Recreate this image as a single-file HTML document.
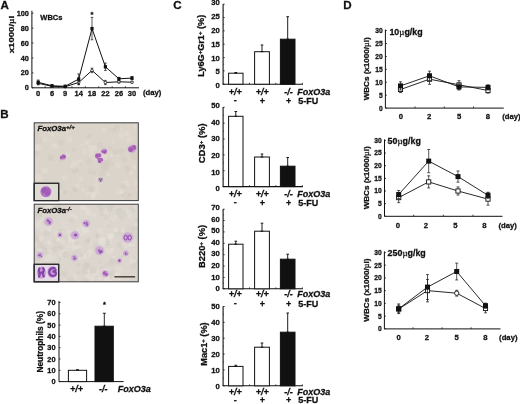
<!DOCTYPE html>
<html><head><meta charset="utf-8"><title>Figure</title>
<style>
html,body{margin:0;padding:0;background:#fff;}
svg{display:block;font-family:"Liberation Sans", Arial, Helvetica, sans-serif;fill:#111;filter:blur(0.35px);}
text{stroke:#111;stroke-width:0.28px;}
</style></head><body>
<svg width="520" height="404" viewBox="0 0 520 404">
<rect x="0" y="0" width="520" height="404" fill="#fff" stroke="none"/>
<text x="0.6" y="8.5" font-size="11.6" text-anchor="start" font-weight="bold" font-style="normal">A</text>
<text x="0.3" y="117.7" font-size="11.6" text-anchor="start" font-weight="bold" font-style="normal">B</text>
<text x="173.2" y="8.5" font-size="11.6" text-anchor="start" font-weight="bold" font-style="normal">C</text>
<text x="343.2" y="8.6" font-size="11.6" text-anchor="start" font-weight="bold" font-style="normal">D</text>
<line x1="31.9" y1="10.8" x2="31.9" y2="87.8" stroke="#111" stroke-width="1"/>
<line x1="31.9" y1="87.8" x2="139" y2="87.8" stroke="#111" stroke-width="1"/>
<line x1="31.9" y1="87.8" x2="33.4" y2="87.8" stroke="#111" stroke-width="0.8"/>
<text x="28.9" y="90.39999999999999" font-size="7.3" text-anchor="end" font-weight="bold" font-style="normal">0</text>
<line x1="31.9" y1="72.88" x2="33.4" y2="72.88" stroke="#111" stroke-width="0.8"/>
<text x="28.9" y="75.47999999999999" font-size="7.3" text-anchor="end" font-weight="bold" font-style="normal">20</text>
<line x1="31.9" y1="57.959999999999994" x2="33.4" y2="57.959999999999994" stroke="#111" stroke-width="0.8"/>
<text x="28.9" y="60.559999999999995" font-size="7.3" text-anchor="end" font-weight="bold" font-style="normal">40</text>
<line x1="31.9" y1="43.04" x2="33.4" y2="43.04" stroke="#111" stroke-width="0.8"/>
<text x="28.9" y="45.64" font-size="7.3" text-anchor="end" font-weight="bold" font-style="normal">60</text>
<line x1="31.9" y1="28.119999999999997" x2="33.4" y2="28.119999999999997" stroke="#111" stroke-width="0.8"/>
<text x="28.9" y="30.72" font-size="7.3" text-anchor="end" font-weight="bold" font-style="normal">80</text>
<line x1="31.9" y1="13.200000000000003" x2="33.4" y2="13.200000000000003" stroke="#111" stroke-width="0.8"/>
<text x="28.9" y="15.800000000000002" font-size="7.3" text-anchor="end" font-weight="bold" font-style="normal">100</text>
<text x="38.2" y="95.6" font-size="7.5" text-anchor="middle" font-weight="bold" font-style="normal">0</text>
<text x="52" y="95.6" font-size="7.5" text-anchor="middle" font-weight="bold" font-style="normal">6</text>
<text x="65.2" y="95.6" font-size="7.5" text-anchor="middle" font-weight="bold" font-style="normal">9</text>
<text x="78.7" y="95.6" font-size="7.5" text-anchor="middle" font-weight="bold" font-style="normal">14</text>
<text x="92" y="95.6" font-size="7.5" text-anchor="middle" font-weight="bold" font-style="normal">18</text>
<text x="105.4" y="95.6" font-size="7.5" text-anchor="middle" font-weight="bold" font-style="normal">22</text>
<text x="118.9" y="95.6" font-size="7.5" text-anchor="middle" font-weight="bold" font-style="normal">26</text>
<text x="132" y="95.6" font-size="7.5" text-anchor="middle" font-weight="bold" font-style="normal">30</text>
<line x1="45.1" y1="87.8" x2="45.1" y2="86.3" stroke="#111" stroke-width="0.8"/>
<line x1="58.6" y1="87.8" x2="58.6" y2="86.3" stroke="#111" stroke-width="0.8"/>
<line x1="71.95" y1="87.8" x2="71.95" y2="86.3" stroke="#111" stroke-width="0.8"/>
<line x1="85.35" y1="87.8" x2="85.35" y2="86.3" stroke="#111" stroke-width="0.8"/>
<line x1="98.7" y1="87.8" x2="98.7" y2="86.3" stroke="#111" stroke-width="0.8"/>
<line x1="112.15" y1="87.8" x2="112.15" y2="86.3" stroke="#111" stroke-width="0.8"/>
<line x1="125.45" y1="87.8" x2="125.45" y2="86.3" stroke="#111" stroke-width="0.8"/>
<text x="143" y="95.3" font-size="7.7" text-anchor="start" font-weight="bold" font-style="normal">(day)</text>
<text x="40.3" y="19.5" font-size="7.5" text-anchor="start" font-weight="bold" font-style="normal">WBCs</text>
<text x="13.8" y="34.5" font-size="7.7" text-anchor="middle" font-weight="bold" font-style="normal" transform="rotate(-90 13.8 34.5)" textLength="37.5" lengthAdjust="spacingAndGlyphs">x1000/<tspan font-family="Liberation Serif, serif" font-weight="normal">µ</tspan>l</text>
<polyline fill="none" stroke="#111" stroke-width="1.0" points="38.2,83.3 52.0,86.3 65.2,86.7 78.7,82.5 92.0,70.4 105.4,82.5 118.9,81.8 132.0,82.2"/>
<polyline fill="none" stroke="#111" stroke-width="1.0" points="38.2,82.3 52.0,85.8 65.2,86.3 78.7,79.1 92.0,28.6 105.4,66.8 118.9,78.8 132.0,78.1"/>
<line x1="38.2" y1="81.832" x2="38.2" y2="84.816" stroke="#111" stroke-width="0.7"/>
<line x1="36.900000000000006" y1="81.832" x2="39.5" y2="81.832" stroke="#111" stroke-width="0.7"/>
<line x1="36.900000000000006" y1="84.816" x2="39.5" y2="84.816" stroke="#111" stroke-width="0.7"/>
<circle cx="38.2" cy="83.3" r="1.3" fill="#fff" stroke="#111" stroke-width="0.8"/>
<line x1="52" y1="85.562" x2="52" y2="87.054" stroke="#111" stroke-width="0.7"/>
<line x1="50.7" y1="85.562" x2="53.3" y2="85.562" stroke="#111" stroke-width="0.7"/>
<line x1="50.7" y1="87.054" x2="53.3" y2="87.054" stroke="#111" stroke-width="0.7"/>
<circle cx="52" cy="86.3" r="1.3" fill="#fff" stroke="#111" stroke-width="0.8"/>
<line x1="65.2" y1="85.935" x2="65.2" y2="87.42699999999999" stroke="#111" stroke-width="0.7"/>
<line x1="63.900000000000006" y1="85.935" x2="66.5" y2="85.935" stroke="#111" stroke-width="0.7"/>
<line x1="63.900000000000006" y1="87.42699999999999" x2="66.5" y2="87.42699999999999" stroke="#111" stroke-width="0.7"/>
<circle cx="65.2" cy="86.7" r="1.3" fill="#fff" stroke="#111" stroke-width="0.8"/>
<line x1="78.7" y1="80.2654" x2="78.7" y2="84.7414" stroke="#111" stroke-width="0.7"/>
<line x1="77.4" y1="80.2654" x2="80.0" y2="80.2654" stroke="#111" stroke-width="0.7"/>
<line x1="77.4" y1="84.7414" x2="80.0" y2="84.7414" stroke="#111" stroke-width="0.7"/>
<circle cx="78.7" cy="82.5" r="1.3" fill="#fff" stroke="#111" stroke-width="0.8"/>
<line x1="92" y1="68.1802" x2="92" y2="72.6562" stroke="#111" stroke-width="0.7"/>
<line x1="90.7" y1="68.1802" x2="93.3" y2="68.1802" stroke="#111" stroke-width="0.7"/>
<line x1="90.7" y1="72.6562" x2="93.3" y2="72.6562" stroke="#111" stroke-width="0.7"/>
<circle cx="92" cy="70.4" r="1.3" fill="#fff" stroke="#111" stroke-width="0.8"/>
<line x1="105.4" y1="80.4146" x2="105.4" y2="84.59219999999999" stroke="#111" stroke-width="0.7"/>
<line x1="104.10000000000001" y1="80.4146" x2="106.7" y2="80.4146" stroke="#111" stroke-width="0.7"/>
<line x1="104.10000000000001" y1="84.59219999999999" x2="106.7" y2="84.59219999999999" stroke="#111" stroke-width="0.7"/>
<circle cx="105.4" cy="82.5" r="1.3" fill="#fff" stroke="#111" stroke-width="0.8"/>
<line x1="118.9" y1="80.713" x2="118.9" y2="82.951" stroke="#111" stroke-width="0.7"/>
<line x1="117.60000000000001" y1="80.713" x2="120.2" y2="80.713" stroke="#111" stroke-width="0.7"/>
<line x1="117.60000000000001" y1="82.951" x2="120.2" y2="82.951" stroke="#111" stroke-width="0.7"/>
<circle cx="118.9" cy="81.8" r="1.3" fill="#fff" stroke="#111" stroke-width="0.8"/>
<line x1="132" y1="81.459" x2="132" y2="82.951" stroke="#111" stroke-width="0.7"/>
<line x1="130.7" y1="81.459" x2="133.3" y2="81.459" stroke="#111" stroke-width="0.7"/>
<line x1="130.7" y1="82.951" x2="133.3" y2="82.951" stroke="#111" stroke-width="0.7"/>
<circle cx="132" cy="82.2" r="1.3" fill="#fff" stroke="#111" stroke-width="0.8"/>
<line x1="38.2" y1="80.0416" x2="38.2" y2="84.5176" stroke="#111" stroke-width="0.7"/>
<line x1="36.900000000000006" y1="80.0416" x2="39.5" y2="80.0416" stroke="#111" stroke-width="0.7"/>
<line x1="36.900000000000006" y1="84.5176" x2="39.5" y2="84.5176" stroke="#111" stroke-width="0.7"/>
<rect x="36.6" y="80.6" width="3.2" height="3.4" fill="#111"/>
<line x1="52" y1="85.0398" x2="52" y2="86.5318" stroke="#111" stroke-width="0.7"/>
<line x1="50.7" y1="85.0398" x2="53.3" y2="85.0398" stroke="#111" stroke-width="0.7"/>
<line x1="50.7" y1="86.5318" x2="53.3" y2="86.5318" stroke="#111" stroke-width="0.7"/>
<rect x="50.4" y="84.1" width="3.2" height="3.4" fill="#111"/>
<line x1="65.2" y1="85.562" x2="65.2" y2="87.054" stroke="#111" stroke-width="0.7"/>
<line x1="63.900000000000006" y1="85.562" x2="66.5" y2="85.562" stroke="#111" stroke-width="0.7"/>
<line x1="63.900000000000006" y1="87.054" x2="66.5" y2="87.054" stroke="#111" stroke-width="0.7"/>
<rect x="63.6" y="84.6" width="3.2" height="3.4" fill="#111"/>
<line x1="78.7" y1="73.92439999999999" x2="78.7" y2="84.3684" stroke="#111" stroke-width="0.7"/>
<line x1="77.4" y1="73.92439999999999" x2="80.0" y2="73.92439999999999" stroke="#111" stroke-width="0.7"/>
<line x1="77.4" y1="84.3684" x2="80.0" y2="84.3684" stroke="#111" stroke-width="0.7"/>
<rect x="77.10000000000001" y="77.4" width="3.2" height="3.4" fill="#111"/>
<line x1="92" y1="17.3776" x2="92" y2="39.7576" stroke="#111" stroke-width="0.7"/>
<line x1="90.7" y1="17.3776" x2="93.3" y2="17.3776" stroke="#111" stroke-width="0.7"/>
<line x1="90.7" y1="39.7576" x2="93.3" y2="39.7576" stroke="#111" stroke-width="0.7"/>
<rect x="90.4" y="26.9" width="3.2" height="3.4" fill="#111"/>
<line x1="105.4" y1="63.032799999999995" x2="105.4" y2="70.4928" stroke="#111" stroke-width="0.7"/>
<line x1="104.10000000000001" y1="63.032799999999995" x2="106.7" y2="63.032799999999995" stroke="#111" stroke-width="0.7"/>
<line x1="104.10000000000001" y1="70.4928" x2="106.7" y2="70.4928" stroke="#111" stroke-width="0.7"/>
<rect x="103.80000000000001" y="65.1" width="3.2" height="3.4" fill="#111"/>
<line x1="118.9" y1="77.356" x2="118.9" y2="80.34" stroke="#111" stroke-width="0.7"/>
<line x1="117.60000000000001" y1="77.356" x2="120.2" y2="77.356" stroke="#111" stroke-width="0.7"/>
<line x1="117.60000000000001" y1="80.34" x2="120.2" y2="80.34" stroke="#111" stroke-width="0.7"/>
<rect x="117.30000000000001" y="77.1" width="3.2" height="3.4" fill="#111"/>
<line x1="132" y1="76.61" x2="132" y2="79.594" stroke="#111" stroke-width="0.7"/>
<line x1="130.7" y1="76.61" x2="133.3" y2="76.61" stroke="#111" stroke-width="0.7"/>
<line x1="130.7" y1="79.594" x2="133.3" y2="79.594" stroke="#111" stroke-width="0.7"/>
<rect x="130.4" y="76.4" width="3.2" height="3.4" fill="#111"/>
<text x="92" y="17.3" font-size="7.5" text-anchor="middle" font-weight="bold" font-style="normal">*</text>
<defs>
<radialGradient id="gh"><stop offset="0" stop-color="#c79cd2" stop-opacity="0.95"/><stop offset="0.65" stop-color="#cba6d4" stop-opacity="0.85"/><stop offset="1" stop-color="#d6c3d6" stop-opacity="0"/></radialGradient>
<radialGradient id="gc"><stop offset="0" stop-color="#a050b0"/><stop offset="0.7" stop-color="#ad66ba" stop-opacity="0.95"/><stop offset="1" stop-color="#c08fc8" stop-opacity="0.3"/></radialGradient>
<filter id="bl" x="-5%" y="-5%" width="110%" height="110%"><feGaussianBlur stdDeviation="0.45"/></filter>
</defs>
<clipPath id="clip1"><rect x="34.2" y="122.8" width="104.1" height="77.8"/></clipPath>
<g clip-path="url(#clip1)">
<rect x="34.2" y="122.8" width="104.1" height="77.8" fill="#dbd4ca"/>
<g filter="url(#bl)">
<circle cx="48.2" cy="188.7" r="3.3" fill="#e6dfd5" opacity="0.55"/>
<circle cx="46.5" cy="182.0" r="2.7" fill="#d4cdc3" opacity="0.55"/>
<circle cx="116.3" cy="130.1" r="1.9" fill="#e3dcd2" opacity="0.55"/>
<circle cx="74.8" cy="170.1" r="3.3" fill="#cfc8be" opacity="0.55"/>
<circle cx="80.6" cy="178.9" r="2.3" fill="#e4ddd3" opacity="0.55"/>
<circle cx="128.0" cy="125.2" r="1.9" fill="#e1dad0" opacity="0.55"/>
<circle cx="35.2" cy="191.4" r="3.2" fill="#d4cdc3" opacity="0.55"/>
<circle cx="109.8" cy="163.8" r="3.3" fill="#d4cdc3" opacity="0.55"/>
<circle cx="91.8" cy="149.7" r="3.2" fill="#e3dcd2" opacity="0.55"/>
<circle cx="82.0" cy="145.3" r="1.8" fill="#e3dcd2" opacity="0.55"/>
<circle cx="129.6" cy="194.5" r="2.0" fill="#cfc8be" opacity="0.55"/>
<circle cx="137.5" cy="189.7" r="2.0" fill="#e6dfd5" opacity="0.55"/>
<circle cx="127.4" cy="198.5" r="2.8" fill="#d4cdc3" opacity="0.55"/>
<circle cx="87.1" cy="193.6" r="2.2" fill="#e6dfd5" opacity="0.55"/>
<circle cx="95.4" cy="191.5" r="3.5" fill="#e1dad0" opacity="0.55"/>
<circle cx="75.1" cy="189.2" r="2.8" fill="#cfc8be" opacity="0.55"/>
<circle cx="117.2" cy="155.0" r="2.1" fill="#e1dad0" opacity="0.55"/>
<circle cx="126.1" cy="183.2" r="3.3" fill="#e4ddd3" opacity="0.55"/>
<circle cx="79.9" cy="162.4" r="3.4" fill="#e1dad0" opacity="0.55"/>
<circle cx="121.6" cy="151.6" r="3.3" fill="#d4cdc3" opacity="0.55"/>
<circle cx="38.7" cy="177.5" r="3.8" fill="#e1dad0" opacity="0.55"/>
<circle cx="94.4" cy="173.1" r="2.1" fill="#d1cac0" opacity="0.55"/>
<circle cx="136.4" cy="182.7" r="2.9" fill="#e3dcd2" opacity="0.55"/>
<circle cx="91.3" cy="154.3" r="2.5" fill="#e3dcd2" opacity="0.55"/>
<circle cx="94.3" cy="158.5" r="2.3" fill="#e1dad0" opacity="0.55"/>
<circle cx="97.6" cy="179.5" r="2.6" fill="#e3dcd2" opacity="0.55"/>
<circle cx="119.6" cy="191.7" r="3.3" fill="#e3dcd2" opacity="0.55"/>
<circle cx="47.7" cy="183.3" r="2.2" fill="#e4ddd3" opacity="0.55"/>
<circle cx="84.3" cy="151.2" r="2.9" fill="#e1dad0" opacity="0.55"/>
<circle cx="77.2" cy="186.1" r="2.6" fill="#e4ddd3" opacity="0.55"/>
<circle cx="90.3" cy="171.3" r="3.0" fill="#d4cdc3" opacity="0.55"/>
<circle cx="96.6" cy="185.4" r="3.1" fill="#e1dad0" opacity="0.55"/>
<circle cx="95.0" cy="189.8" r="3.4" fill="#e3dcd2" opacity="0.55"/>
<circle cx="122.8" cy="195.2" r="1.9" fill="#cfc8be" opacity="0.55"/>
<circle cx="41.5" cy="190.3" r="2.7" fill="#e3dcd2" opacity="0.55"/>
<circle cx="112.9" cy="142.2" r="2.0" fill="#e1dad0" opacity="0.55"/>
<circle cx="53.4" cy="145.4" r="2.1" fill="#e6dfd5" opacity="0.55"/>
<circle cx="89.1" cy="135.9" r="2.3" fill="#cfc8be" opacity="0.55"/>
<circle cx="64.9" cy="177.5" r="2.8" fill="#e4ddd3" opacity="0.55"/>
<circle cx="36.7" cy="152.9" r="2.6" fill="#d1cac0" opacity="0.55"/>
<circle cx="61.1" cy="142.5" r="3.3" fill="#d1cac0" opacity="0.55"/>
<circle cx="134.7" cy="156.4" r="3.8" fill="#d1cac0" opacity="0.55"/>
<circle cx="36.1" cy="134.2" r="3.2" fill="#d1cac0" opacity="0.55"/>
<circle cx="80.6" cy="162.2" r="2.7" fill="#e3dcd2" opacity="0.55"/>
<circle cx="57.2" cy="198.7" r="3.4" fill="#e1dad0" opacity="0.55"/>
<circle cx="81.1" cy="163.6" r="1.9" fill="#cfc8be" opacity="0.55"/>
<circle cx="94.1" cy="147.8" r="3.1" fill="#e4ddd3" opacity="0.55"/>
<circle cx="111.0" cy="132.6" r="2.2" fill="#e4ddd3" opacity="0.55"/>
<circle cx="66.1" cy="189.6" r="2.4" fill="#e6dfd5" opacity="0.55"/>
<circle cx="111.6" cy="155.2" r="2.3" fill="#e4ddd3" opacity="0.55"/>
<circle cx="92.6" cy="189.0" r="3.0" fill="#d1cac0" opacity="0.55"/>
<circle cx="134.4" cy="167.2" r="2.1" fill="#e3dcd2" opacity="0.55"/>
<circle cx="124.8" cy="183.5" r="3.0" fill="#e4ddd3" opacity="0.55"/>
<circle cx="73.5" cy="149.8" r="2.2" fill="#cfc8be" opacity="0.55"/>
<circle cx="127.5" cy="168.8" r="2.8" fill="#cfc8be" opacity="0.55"/>
<circle cx="74.8" cy="162.0" r="1.8" fill="#e1dad0" opacity="0.55"/>
<circle cx="124.9" cy="192.8" r="1.8" fill="#d1cac0" opacity="0.55"/>
<circle cx="123.5" cy="185.9" r="2.9" fill="#d1cac0" opacity="0.55"/>
<circle cx="69.5" cy="139.4" r="3.1" fill="#e3dcd2" opacity="0.55"/>
<circle cx="73.7" cy="165.4" r="3.6" fill="#e3dcd2" opacity="0.55"/>
<circle cx="105.7" cy="160.5" r="3.8" fill="#d1cac0" opacity="0.55"/>
<circle cx="41.0" cy="125.9" r="2.1" fill="#d1cac0" opacity="0.55"/>
<circle cx="129.0" cy="139.4" r="3.3" fill="#e1dad0" opacity="0.55"/>
<circle cx="86.9" cy="142.7" r="2.5" fill="#e4ddd3" opacity="0.55"/>
<circle cx="64.5" cy="190.3" r="3.0" fill="#cfc8be" opacity="0.55"/>
<circle cx="126.6" cy="133.3" r="2.9" fill="#e4ddd3" opacity="0.55"/>
<circle cx="67.6" cy="154.4" r="2.6" fill="#e3dcd2" opacity="0.55"/>
<circle cx="49.5" cy="132.5" r="2.0" fill="#e1dad0" opacity="0.55"/>
<circle cx="115.6" cy="152.2" r="2.9" fill="#d1cac0" opacity="0.55"/>
<circle cx="93.1" cy="196.9" r="2.5" fill="#e6dfd5" opacity="0.55"/>
<circle cx="93.0" cy="194.8" r="2.7" fill="#e6dfd5" opacity="0.55"/>
<circle cx="45.4" cy="126.4" r="2.4" fill="#e1dad0" opacity="0.55"/>
<circle cx="104.0" cy="129.9" r="2.0" fill="#e3dcd2" opacity="0.55"/>
<circle cx="38.4" cy="141.4" r="3.8" fill="#d4cdc3" opacity="0.55"/>
<circle cx="51.1" cy="157.9" r="3.2" fill="#d1cac0" opacity="0.55"/>
<circle cx="111.7" cy="130.8" r="3.6" fill="#d4cdc3" opacity="0.55"/>
<circle cx="118.2" cy="165.0" r="3.4" fill="#e1dad0" opacity="0.55"/>
<circle cx="60.6" cy="159.9" r="2.0" fill="#cfc8be" opacity="0.55"/>
<circle cx="67.2" cy="124.9" r="3.4" fill="#e6dfd5" opacity="0.55"/>
<circle cx="109.8" cy="147.7" r="2.6" fill="#d4cdc3" opacity="0.55"/>
<circle cx="40.8" cy="193.9" r="3.7" fill="#d4cdc3" opacity="0.55"/>
<circle cx="45.8" cy="139.5" r="3.0" fill="#e1dad0" opacity="0.55"/>
<circle cx="124.5" cy="159.3" r="2.5" fill="#d1cac0" opacity="0.55"/>
<circle cx="90.6" cy="146.7" r="2.3" fill="#e4ddd3" opacity="0.55"/>
<circle cx="119.6" cy="129.8" r="3.3" fill="#e4ddd3" opacity="0.55"/>
<circle cx="102.1" cy="172.9" r="3.7" fill="#d4cdc3" opacity="0.55"/>
<circle cx="134.8" cy="126.0" r="2.2" fill="#e3dcd2" opacity="0.55"/>
<circle cx="122.4" cy="192.3" r="2.4" fill="#e6dfd5" opacity="0.55"/>
<circle cx="44.7" cy="170.4" r="3.4" fill="#e4ddd3" opacity="0.55"/>
<circle cx="59.7" cy="124.4" r="2.3" fill="#e4ddd3" opacity="0.55"/>
<circle cx="62.1" cy="190.3" r="3.3" fill="#e4ddd3" opacity="0.55"/>
<circle cx="100.3" cy="145.4" r="3.4" fill="#d4cdc3" opacity="0.55"/>
<circle cx="83.0" cy="189.6" r="2.0" fill="#e3dcd2" opacity="0.55"/>
<circle cx="117.0" cy="128.8" r="3.7" fill="#d1cac0" opacity="0.55"/>
<circle cx="52.9" cy="134.4" r="2.1" fill="#e3dcd2" opacity="0.55"/>
<circle cx="67.5" cy="131.1" r="2.8" fill="#e1dad0" opacity="0.55"/>
<circle cx="64.8" cy="192.3" r="2.1" fill="#cfc8be" opacity="0.55"/>
<circle cx="37.5" cy="147.4" r="3.6" fill="#e3dcd2" opacity="0.55"/>
<circle cx="104.2" cy="165.8" r="3.7" fill="#cfc8be" opacity="0.55"/>
<circle cx="55.6" cy="146.1" r="2.9" fill="#e4ddd3" opacity="0.55"/>
<circle cx="108.6" cy="174.8" r="2.3" fill="#e4ddd3" opacity="0.55"/>
<circle cx="105.2" cy="157.6" r="2.7" fill="#e6dfd5" opacity="0.55"/>
<circle cx="90.6" cy="189.0" r="2.7" fill="#d4cdc3" opacity="0.55"/>
<circle cx="121.3" cy="136.1" r="2.8" fill="#e3dcd2" opacity="0.55"/>
<circle cx="101.5" cy="155.2" r="2.9" fill="#e4ddd3" opacity="0.55"/>
<circle cx="106.2" cy="167.9" r="3.0" fill="#d1cac0" opacity="0.55"/>
<circle cx="61.2" cy="187.3" r="2.6" fill="#d4cdc3" opacity="0.55"/>
<circle cx="52.1" cy="129.7" r="2.8" fill="#d1cac0" opacity="0.55"/>
<circle cx="89.2" cy="161.8" r="3.1" fill="#d4cdc3" opacity="0.55"/>
<circle cx="131.0" cy="172.5" r="2.3" fill="#e6dfd5" opacity="0.55"/>
<circle cx="63.0" cy="157.5" r="3.6" fill="url(#gh)"/>
<circle cx="61.7" cy="157.5" r="2.3" fill="url(#gc)"/>
<circle cx="63.5" cy="156.3" r="2.3" fill="url(#gc)"/>
<circle cx="64.0" cy="156.7" r="2.3" fill="url(#gc)"/>
<circle cx="98.3" cy="156.0" r="3.8" fill="url(#gh)"/>
<circle cx="97.2" cy="156.7" r="2.3" fill="url(#gc)"/>
<circle cx="99.4" cy="155.2" r="2.3" fill="url(#gc)"/>
<circle cx="97.1" cy="155.4" r="2.3" fill="url(#gc)"/>
<circle cx="100.2" cy="160.3" r="3.4" fill="url(#gh)"/>
<circle cx="101.3" cy="159.7" r="2.1" fill="url(#gc)"/>
<circle cx="99.3" cy="159.5" r="2.1" fill="url(#gc)"/>
<circle cx="99.7" cy="161.4" r="2.1" fill="url(#gc)"/>
<circle cx="104.1" cy="150.9" r="3.5" fill="url(#gh)"/>
<circle cx="105.3" cy="151.3" r="2.2" fill="url(#gc)"/>
<circle cx="103.1" cy="151.6" r="2.2" fill="url(#gc)"/>
<circle cx="104.6" cy="152.0" r="2.2" fill="url(#gc)"/>
<circle cx="132.4" cy="148.9" r="5.0" fill="url(#gh)"/>
<circle cx="133.7" cy="147.6" r="3.1" fill="url(#gc)"/>
<circle cx="130.6" cy="149.0" r="3.1" fill="url(#gc)"/>
<circle cx="130.8" cy="149.6" r="3.1" fill="url(#gc)"/>
<circle cx="100.6" cy="179.8" r="3.2" fill="url(#gh)"/>
<circle cx="100.6" cy="179.8" r="2.3" fill="#b9a3c0" opacity="0.8"/>
<path d="M99.0 178.4 L100.6 180.4 L102.2 178.4 M100.6 180.4 V181.6" stroke="#5a4a70" stroke-width="0.8" fill="none"/>
</g>
</g>
<rect x="34.2" y="183.3" width="24.5" height="17.3" fill="#dedbd3" stroke="#2b2b2b" stroke-width="1.1"/>
<rect x="34.2" y="122.8" width="104.1" height="77.8" fill="none" stroke="#3a3a3a" stroke-width="1"/>
<text x="37.400000000000006" y="131.4" font-size="7.8" font-weight="bold" font-style="italic">FoxO3a<tspan font-size="6" dy="-2.3">+/+</tspan></text>
<g filter="url(#bl)"><circle cx="45.9" cy="191.6" r="6.6" fill="url(#gh)"/><circle cx="45.9" cy="191.6" r="5.4" fill="#b072c2"/><circle cx="44.4" cy="190.2" r="2.8" fill="#a05ab6"/><circle cx="47.5" cy="193" r="2.6" fill="#a25cb8"/><circle cx="47.6" cy="189.8" r="2" fill="#a660ba"/></g>
<clipPath id="clip2"><rect x="34.2" y="204.2" width="104.1" height="77.6"/></clipPath>
<g clip-path="url(#clip2)">
<rect x="34.2" y="204.2" width="104.1" height="77.6" fill="#dcd6cf"/>
<g filter="url(#bl)">
<circle cx="133.7" cy="277.8" r="1.9" fill="#e5dfd8" opacity="0.55"/>
<circle cx="71.8" cy="217.3" r="3.4" fill="#e4ded7" opacity="0.55"/>
<circle cx="66.3" cy="251.2" r="3.0" fill="#e2dcd5" opacity="0.55"/>
<circle cx="105.1" cy="281.8" r="3.1" fill="#e4ded7" opacity="0.55"/>
<circle cx="109.5" cy="281.4" r="3.7" fill="#e2dcd5" opacity="0.55"/>
<circle cx="131.6" cy="243.2" r="3.6" fill="#e4ded7" opacity="0.55"/>
<circle cx="37.1" cy="240.3" r="2.4" fill="#d5cfc8" opacity="0.55"/>
<circle cx="78.3" cy="272.8" r="2.1" fill="#d2ccc5" opacity="0.55"/>
<circle cx="58.8" cy="206.1" r="2.5" fill="#d2ccc5" opacity="0.55"/>
<circle cx="87.3" cy="232.1" r="2.8" fill="#e2dcd5" opacity="0.55"/>
<circle cx="53.1" cy="273.5" r="3.4" fill="#d0cac3" opacity="0.55"/>
<circle cx="88.9" cy="274.7" r="2.5" fill="#e2dcd5" opacity="0.55"/>
<circle cx="71.0" cy="280.3" r="3.7" fill="#d2ccc5" opacity="0.55"/>
<circle cx="133.6" cy="235.2" r="3.3" fill="#d0cac3" opacity="0.55"/>
<circle cx="89.4" cy="242.2" r="3.6" fill="#e2dcd5" opacity="0.55"/>
<circle cx="87.9" cy="266.0" r="3.1" fill="#d5cfc8" opacity="0.55"/>
<circle cx="127.9" cy="240.0" r="2.9" fill="#e2dcd5" opacity="0.55"/>
<circle cx="109.5" cy="242.0" r="2.2" fill="#e7e1da" opacity="0.55"/>
<circle cx="119.0" cy="269.0" r="3.6" fill="#e2dcd5" opacity="0.55"/>
<circle cx="62.1" cy="274.9" r="2.4" fill="#e4ded7" opacity="0.55"/>
<circle cx="107.7" cy="243.3" r="2.8" fill="#d0cac3" opacity="0.55"/>
<circle cx="98.3" cy="235.8" r="3.3" fill="#d5cfc8" opacity="0.55"/>
<circle cx="87.5" cy="276.7" r="3.0" fill="#e5dfd8" opacity="0.55"/>
<circle cx="115.8" cy="230.7" r="1.8" fill="#e4ded7" opacity="0.55"/>
<circle cx="54.1" cy="262.0" r="1.9" fill="#d0cac3" opacity="0.55"/>
<circle cx="39.3" cy="250.1" r="3.2" fill="#e5dfd8" opacity="0.55"/>
<circle cx="112.7" cy="214.8" r="2.3" fill="#e4ded7" opacity="0.55"/>
<circle cx="56.1" cy="272.5" r="2.6" fill="#d0cac3" opacity="0.55"/>
<circle cx="113.3" cy="208.6" r="2.5" fill="#d2ccc5" opacity="0.55"/>
<circle cx="104.2" cy="210.6" r="3.7" fill="#e5dfd8" opacity="0.55"/>
<circle cx="38.5" cy="275.5" r="2.5" fill="#d2ccc5" opacity="0.55"/>
<circle cx="118.9" cy="216.4" r="2.2" fill="#d0cac3" opacity="0.55"/>
<circle cx="34.4" cy="249.9" r="3.4" fill="#d2ccc5" opacity="0.55"/>
<circle cx="50.0" cy="207.0" r="2.5" fill="#e2dcd5" opacity="0.55"/>
<circle cx="99.5" cy="262.2" r="2.4" fill="#d5cfc8" opacity="0.55"/>
<circle cx="37.4" cy="239.0" r="3.3" fill="#d0cac3" opacity="0.55"/>
<circle cx="39.0" cy="224.7" r="2.6" fill="#e2dcd5" opacity="0.55"/>
<circle cx="107.6" cy="240.9" r="2.3" fill="#d0cac3" opacity="0.55"/>
<circle cx="105.8" cy="269.3" r="1.8" fill="#e4ded7" opacity="0.55"/>
<circle cx="125.3" cy="214.1" r="3.0" fill="#d5cfc8" opacity="0.55"/>
<circle cx="84.9" cy="229.6" r="3.5" fill="#e7e1da" opacity="0.55"/>
<circle cx="61.2" cy="251.2" r="2.6" fill="#e5dfd8" opacity="0.55"/>
<circle cx="107.0" cy="278.6" r="3.1" fill="#e7e1da" opacity="0.55"/>
<circle cx="37.7" cy="216.7" r="2.0" fill="#d0cac3" opacity="0.55"/>
<circle cx="58.3" cy="275.3" r="3.2" fill="#e5dfd8" opacity="0.55"/>
<circle cx="137.7" cy="222.2" r="2.7" fill="#e7e1da" opacity="0.55"/>
<circle cx="42.6" cy="221.9" r="3.4" fill="#e2dcd5" opacity="0.55"/>
<circle cx="108.1" cy="224.1" r="2.6" fill="#e2dcd5" opacity="0.55"/>
<circle cx="112.3" cy="215.9" r="2.6" fill="#d2ccc5" opacity="0.55"/>
<circle cx="45.8" cy="260.4" r="2.3" fill="#e5dfd8" opacity="0.55"/>
<circle cx="36.3" cy="262.4" r="2.0" fill="#e5dfd8" opacity="0.55"/>
<circle cx="88.4" cy="240.2" r="2.4" fill="#d0cac3" opacity="0.55"/>
<circle cx="73.8" cy="257.3" r="3.3" fill="#d2ccc5" opacity="0.55"/>
<circle cx="110.1" cy="237.9" r="2.8" fill="#e2dcd5" opacity="0.55"/>
<circle cx="95.8" cy="272.6" r="3.7" fill="#e2dcd5" opacity="0.55"/>
<circle cx="53.1" cy="211.5" r="3.4" fill="#e7e1da" opacity="0.55"/>
<circle cx="36.2" cy="278.7" r="2.0" fill="#e7e1da" opacity="0.55"/>
<circle cx="64.3" cy="280.5" r="2.5" fill="#e5dfd8" opacity="0.55"/>
<circle cx="125.2" cy="236.2" r="2.0" fill="#d2ccc5" opacity="0.55"/>
<circle cx="121.7" cy="256.4" r="1.8" fill="#d5cfc8" opacity="0.55"/>
<circle cx="40.4" cy="253.7" r="2.7" fill="#e2dcd5" opacity="0.55"/>
<circle cx="98.1" cy="204.6" r="1.8" fill="#e7e1da" opacity="0.55"/>
<circle cx="131.6" cy="210.1" r="3.3" fill="#d2ccc5" opacity="0.55"/>
<circle cx="46.3" cy="233.2" r="3.2" fill="#d2ccc5" opacity="0.55"/>
<circle cx="112.6" cy="234.9" r="2.0" fill="#e5dfd8" opacity="0.55"/>
<circle cx="47.0" cy="252.0" r="2.5" fill="#d5cfc8" opacity="0.55"/>
<circle cx="134.1" cy="257.9" r="1.8" fill="#d0cac3" opacity="0.55"/>
<circle cx="83.2" cy="207.6" r="3.2" fill="#e7e1da" opacity="0.55"/>
<circle cx="71.4" cy="239.7" r="3.4" fill="#e7e1da" opacity="0.55"/>
<circle cx="84.6" cy="271.4" r="3.2" fill="#d0cac3" opacity="0.55"/>
<circle cx="117.9" cy="276.5" r="3.5" fill="#e7e1da" opacity="0.55"/>
<circle cx="75.3" cy="216.3" r="3.0" fill="#e2dcd5" opacity="0.55"/>
<circle cx="78.7" cy="256.9" r="3.6" fill="#e2dcd5" opacity="0.55"/>
<circle cx="110.0" cy="248.9" r="1.9" fill="#d2ccc5" opacity="0.55"/>
<circle cx="138.1" cy="215.6" r="2.6" fill="#e5dfd8" opacity="0.55"/>
<circle cx="117.3" cy="274.9" r="3.2" fill="#e4ded7" opacity="0.55"/>
<circle cx="101.7" cy="214.2" r="2.4" fill="#d2ccc5" opacity="0.55"/>
<circle cx="107.9" cy="272.9" r="2.5" fill="#d2ccc5" opacity="0.55"/>
<circle cx="88.7" cy="212.9" r="2.9" fill="#e4ded7" opacity="0.55"/>
<circle cx="78.3" cy="229.7" r="2.3" fill="#e2dcd5" opacity="0.55"/>
<circle cx="61.0" cy="273.6" r="2.7" fill="#d0cac3" opacity="0.55"/>
<circle cx="58.6" cy="272.1" r="2.5" fill="#e4ded7" opacity="0.55"/>
<circle cx="93.9" cy="215.4" r="2.7" fill="#e5dfd8" opacity="0.55"/>
<circle cx="118.5" cy="233.9" r="3.3" fill="#d5cfc8" opacity="0.55"/>
<circle cx="87.3" cy="241.6" r="2.6" fill="#d0cac3" opacity="0.55"/>
<circle cx="110.3" cy="236.2" r="3.1" fill="#e7e1da" opacity="0.55"/>
<circle cx="134.3" cy="229.9" r="3.3" fill="#d0cac3" opacity="0.55"/>
<circle cx="42.7" cy="267.8" r="3.3" fill="#e2dcd5" opacity="0.55"/>
<circle cx="98.9" cy="235.5" r="3.1" fill="#d0cac3" opacity="0.55"/>
<circle cx="129.4" cy="228.5" r="2.8" fill="#d5cfc8" opacity="0.55"/>
<circle cx="101.9" cy="267.5" r="1.8" fill="#d2ccc5" opacity="0.55"/>
<circle cx="110.1" cy="251.3" r="3.6" fill="#e5dfd8" opacity="0.55"/>
<circle cx="74.8" cy="247.5" r="3.4" fill="#e7e1da" opacity="0.55"/>
<circle cx="111.7" cy="249.7" r="2.2" fill="#e4ded7" opacity="0.55"/>
<circle cx="97.9" cy="204.9" r="3.2" fill="#d5cfc8" opacity="0.55"/>
<circle cx="60.6" cy="248.1" r="2.7" fill="#d2ccc5" opacity="0.55"/>
<circle cx="135.4" cy="263.2" r="2.5" fill="#d5cfc8" opacity="0.55"/>
<circle cx="89.7" cy="256.1" r="1.9" fill="#e2dcd5" opacity="0.55"/>
<circle cx="84.7" cy="256.6" r="2.5" fill="#e7e1da" opacity="0.55"/>
<circle cx="125.6" cy="239.9" r="3.8" fill="#e2dcd5" opacity="0.55"/>
<circle cx="112.7" cy="217.7" r="3.3" fill="#e4ded7" opacity="0.55"/>
<circle cx="138.1" cy="224.0" r="3.1" fill="#e4ded7" opacity="0.55"/>
<circle cx="124.1" cy="214.7" r="2.1" fill="#d5cfc8" opacity="0.55"/>
<circle cx="137.5" cy="256.6" r="2.1" fill="#e7e1da" opacity="0.55"/>
<circle cx="92.2" cy="279.2" r="2.5" fill="#e2dcd5" opacity="0.55"/>
<circle cx="122.7" cy="248.0" r="2.2" fill="#d0cac3" opacity="0.55"/>
<circle cx="66.3" cy="254.6" r="2.8" fill="#e2dcd5" opacity="0.55"/>
<circle cx="108.2" cy="227.7" r="2.3" fill="#e7e1da" opacity="0.55"/>
<circle cx="65.9" cy="254.4" r="3.4" fill="#d0cac3" opacity="0.55"/>
<circle cx="101.1" cy="244.4" r="3.6" fill="#e2dcd5" opacity="0.55"/>
<circle cx="100.1" cy="234.6" r="2.9" fill="#e4ded7" opacity="0.55"/>
<circle cx="49.8" cy="243.4" r="2.0" fill="#e5dfd8" opacity="0.55"/>
<circle cx="58.4" cy="239.7" r="2.3" fill="#e7e1da" opacity="0.55"/>
<circle cx="40.6" cy="212.9" r="3.2" fill="#e4ded7" opacity="0.55"/>
<circle cx="73.7" cy="232.5" r="2.4" fill="#e5dfd8" opacity="0.55"/>
<circle cx="69.0" cy="232.3" r="2.8" fill="#e4ded7" opacity="0.55"/>
<circle cx="64.6" cy="273.6" r="3.6" fill="#d5cfc8" opacity="0.55"/>
<circle cx="137.3" cy="221.0" r="2.3" fill="#d2ccc5" opacity="0.55"/>
<circle cx="44.6" cy="222.7" r="2.2" fill="#d0cac3" opacity="0.55"/>
<circle cx="122.3" cy="218.6" r="2.1" fill="#d2ccc5" opacity="0.55"/>
<circle cx="58.5" cy="266.9" r="3.1" fill="#d5cfc8" opacity="0.55"/>
<circle cx="118.4" cy="262.4" r="2.4" fill="#d0cac3" opacity="0.55"/>
<circle cx="130.6" cy="243.2" r="3.2" fill="#e7e1da" opacity="0.55"/>
<circle cx="111.5" cy="262.5" r="3.5" fill="#d0cac3" opacity="0.55"/>
<circle cx="112.6" cy="280.2" r="2.4" fill="#e2dcd5" opacity="0.55"/>
<circle cx="100.5" cy="209.8" r="2.4" fill="#d5cfc8" opacity="0.55"/>
<circle cx="52.4" cy="278.5" r="2.5" fill="#d5cfc8" opacity="0.55"/>
<circle cx="43.3" cy="275.9" r="2.4" fill="#d5cfc8" opacity="0.55"/>
<circle cx="47.4" cy="206.4" r="2.5" fill="#e7e1da" opacity="0.55"/>
<circle cx="42.2" cy="272.4" r="3.3" fill="#d0cac3" opacity="0.55"/>
<circle cx="79.6" cy="246.3" r="2.3" fill="#e4ded7" opacity="0.55"/>
<circle cx="96.1" cy="246.2" r="2.7" fill="#d2ccc5" opacity="0.55"/>
<circle cx="71.7" cy="219.9" r="2.8" fill="#d2ccc5" opacity="0.55"/>
<circle cx="115.8" cy="229.9" r="2.1" fill="#e7e1da" opacity="0.55"/>
<circle cx="60.2" cy="230.8" r="2.3" fill="#d2ccc5" opacity="0.55"/>
<circle cx="110.0" cy="207.8" r="3.7" fill="#d0cac3" opacity="0.55"/>
<circle cx="114.1" cy="209.0" r="2.1" fill="#e4ded7" opacity="0.55"/>
<circle cx="40.8" cy="238.6" r="2.3" fill="#e7e1da" opacity="0.55"/>
<circle cx="88.6" cy="269.8" r="2.5" fill="#e4ded7" opacity="0.55"/>
<circle cx="108.2" cy="278.5" r="2.3" fill="#e5dfd8" opacity="0.55"/>
<circle cx="75.0" cy="241.0" r="3.0" fill="#e7e1da" opacity="0.55"/>
<circle cx="90.9" cy="252.4" r="2.0" fill="#e2dcd5" opacity="0.55"/>
<circle cx="90.3" cy="280.6" r="3.8" fill="#e4ded7" opacity="0.55"/>
<circle cx="106.2" cy="217.3" r="2.6" fill="#d5cfc8" opacity="0.55"/>
<circle cx="39.0" cy="212.6" r="3.8" fill="#d2ccc5" opacity="0.55"/>
<circle cx="46.5" cy="275.7" r="2.8" fill="#d2ccc5" opacity="0.55"/>
<circle cx="42.3" cy="227.9" r="3.4" fill="#e5dfd8" opacity="0.55"/>
<circle cx="60.5" cy="256.1" r="2.2" fill="#e5dfd8" opacity="0.55"/>
<circle cx="49.5" cy="256.2" r="2.0" fill="#e4ded7" opacity="0.55"/>
<circle cx="101.8" cy="208.1" r="3.6" fill="#d2ccc5" opacity="0.55"/>
<circle cx="40.9" cy="215.0" r="1.9" fill="#d0cac3" opacity="0.55"/>
<circle cx="86.5" cy="208.9" r="2.2" fill="#e5dfd8" opacity="0.55"/>
<circle cx="119.8" cy="244.8" r="3.2" fill="#d2ccc5" opacity="0.55"/>
<circle cx="48.8" cy="242.4" r="2.1" fill="#e5dfd8" opacity="0.55"/>
<circle cx="59.9" cy="240.4" r="3.4" fill="#e2dcd5" opacity="0.55"/>
<circle cx="56.6" cy="233.6" r="3.0" fill="#e4ded7" opacity="0.55"/>
<circle cx="75.2" cy="276.8" r="2.8" fill="#e4ded7" opacity="0.55"/>
<circle cx="129.7" cy="216.8" r="2.0" fill="#e4ded7" opacity="0.55"/>
<circle cx="50.0" cy="278.5" r="2.1" fill="#d2ccc5" opacity="0.55"/>
<circle cx="65.2" cy="237.6" r="2.7" fill="#d5cfc8" opacity="0.55"/>
<circle cx="66.9" cy="227.4" r="2.0" fill="#e5dfd8" opacity="0.55"/>
<circle cx="83.4" cy="226.3" r="3.3" fill="#e7e1da" opacity="0.55"/>
<circle cx="58.0" cy="258.8" r="3.2" fill="#d0cac3" opacity="0.55"/>
<circle cx="45.0" cy="250.9" r="3.3" fill="#d2ccc5" opacity="0.55"/>
<circle cx="54.4" cy="249.2" r="3.1" fill="#d0cac3" opacity="0.55"/>
<circle cx="36.6" cy="224.6" r="3.2" fill="#e2dcd5" opacity="0.55"/>
<circle cx="39.2" cy="264.1" r="3.4" fill="#e4ded7" opacity="0.55"/>
<circle cx="49.2" cy="228.5" r="3.2" fill="#e5dfd8" opacity="0.55"/>
<circle cx="48.8" cy="258.0" r="3.6" fill="#e4ded7" opacity="0.55"/>
<circle cx="133.7" cy="280.1" r="3.6" fill="#d5cfc8" opacity="0.55"/>
<circle cx="99.7" cy="278.9" r="2.1" fill="#e7e1da" opacity="0.55"/>
<circle cx="107.2" cy="225.7" r="3.6" fill="#e2dcd5" opacity="0.55"/>
<circle cx="41.2" cy="273.9" r="3.1" fill="#e5dfd8" opacity="0.55"/>
<circle cx="81.6" cy="255.4" r="2.0" fill="#d0cac3" opacity="0.55"/>
<circle cx="110.6" cy="277.5" r="1.8" fill="#d5cfc8" opacity="0.55"/>
<circle cx="68.9" cy="245.9" r="2.6" fill="#e2dcd5" opacity="0.55"/>
<circle cx="112.0" cy="273.4" r="2.7" fill="#d2ccc5" opacity="0.55"/>
<circle cx="106.4" cy="265.2" r="2.7" fill="#d5cfc8" opacity="0.55"/>
<circle cx="135.2" cy="233.9" r="3.0" fill="#e2dcd5" opacity="0.55"/>
<circle cx="54.1" cy="241.1" r="2.2" fill="#d5cfc8" opacity="0.55"/>
<circle cx="122.7" cy="230.4" r="1.9" fill="#e7e1da" opacity="0.55"/>
<circle cx="97.2" cy="270.9" r="2.2" fill="#e2dcd5" opacity="0.55"/>
<circle cx="102.3" cy="249.0" r="2.1" fill="#e7e1da" opacity="0.55"/>
<circle cx="124.7" cy="245.7" r="3.4" fill="#e5dfd8" opacity="0.55"/>
<circle cx="35.5" cy="271.7" r="2.2" fill="#e7e1da" opacity="0.55"/>
<circle cx="40.3" cy="245.6" r="3.4" fill="#d0cac3" opacity="0.55"/>
<circle cx="69.9" cy="238.4" r="2.6" fill="#e4ded7" opacity="0.55"/>
<circle cx="108.3" cy="226.1" r="2.9" fill="#d2ccc5" opacity="0.55"/>
<circle cx="49.9" cy="251.3" r="2.6" fill="#e5dfd8" opacity="0.55"/>
<circle cx="100.1" cy="238.9" r="2.4" fill="#e5dfd8" opacity="0.55"/>
<circle cx="85.8" cy="266.3" r="3.6" fill="#d2ccc5" opacity="0.55"/>
<circle cx="93.0" cy="270.1" r="3.5" fill="#d2ccc5" opacity="0.55"/>
<circle cx="55.3" cy="258.8" r="3.5" fill="#e2dcd5" opacity="0.55"/>
<circle cx="98.3" cy="234.6" r="2.6" fill="#d0cac3" opacity="0.55"/>
<circle cx="56.4" cy="209.0" r="3.1" fill="#d2ccc5" opacity="0.55"/>
<circle cx="132.4" cy="261.0" r="3.4" fill="#e5dfd8" opacity="0.55"/>
<circle cx="135.2" cy="234.6" r="2.7" fill="#d5cfc8" opacity="0.55"/>
<circle cx="63.9" cy="222.9" r="1.9" fill="#e2dcd5" opacity="0.55"/>
<circle cx="119.3" cy="211.2" r="3.7" fill="#d0cac3" opacity="0.55"/>
<circle cx="34.6" cy="234.2" r="2.7" fill="#d2ccc5" opacity="0.55"/>
<circle cx="87.8" cy="212.0" r="2.8" fill="#e2dcd5" opacity="0.55"/>
<circle cx="132.3" cy="242.4" r="1.9" fill="#d5cfc8" opacity="0.55"/>
<circle cx="110.7" cy="221.4" r="1.8" fill="#d5cfc8" opacity="0.55"/>
<circle cx="38.5" cy="254.6" r="2.2" fill="#d2ccc5" opacity="0.55"/>
<circle cx="90.2" cy="252.0" r="3.1" fill="#e4ded7" opacity="0.55"/>
<circle cx="44.8" cy="247.5" r="2.0" fill="#d0cac3" opacity="0.55"/>
<circle cx="48.4" cy="259.1" r="1.9" fill="#e2dcd5" opacity="0.55"/>
<circle cx="103.0" cy="240.9" r="3.7" fill="#e7e1da" opacity="0.55"/>
<circle cx="113.7" cy="257.5" r="2.0" fill="#e7e1da" opacity="0.55"/>
<circle cx="45.3" cy="265.1" r="2.5" fill="#d0cac3" opacity="0.55"/>
<circle cx="62.9" cy="241.3" r="2.4" fill="#e2dcd5" opacity="0.55"/>
<circle cx="134.9" cy="206.2" r="2.5" fill="#e4ded7" opacity="0.55"/>
<circle cx="100.1" cy="231.3" r="3.7" fill="#e2dcd5" opacity="0.55"/>
<circle cx="108.7" cy="271.1" r="2.0" fill="#e2dcd5" opacity="0.55"/>
<circle cx="86.9" cy="264.0" r="2.7" fill="#d2ccc5" opacity="0.55"/>
<circle cx="116.5" cy="216.8" r="1.9" fill="#e2dcd5" opacity="0.55"/>
<circle cx="113.3" cy="260.0" r="2.5" fill="#d2ccc5" opacity="0.55"/>
<circle cx="64.9" cy="274.4" r="1.9" fill="#d2ccc5" opacity="0.55"/>
<circle cx="93.1" cy="276.7" r="2.2" fill="#e5dfd8" opacity="0.55"/>
<circle cx="128.8" cy="212.8" r="3.0" fill="#e5dfd8" opacity="0.55"/>
<circle cx="59.5" cy="246.9" r="2.0" fill="#d0cac3" opacity="0.55"/>
<circle cx="76.4" cy="243.0" r="2.4" fill="#d0cac3" opacity="0.55"/>
<circle cx="57.2" cy="245.0" r="3.8" fill="#d5cfc8" opacity="0.55"/>
<circle cx="78.7" cy="264.9" r="2.1" fill="#d2ccc5" opacity="0.55"/>
<circle cx="82.1" cy="233.1" r="3.7" fill="#e2dcd5" opacity="0.55"/>
<circle cx="53.2" cy="267.7" r="3.7" fill="#e2dcd5" opacity="0.55"/>
<circle cx="133.2" cy="266.2" r="3.1" fill="#d2ccc5" opacity="0.55"/>
<circle cx="85.8" cy="281.1" r="3.5" fill="#d2ccc5" opacity="0.55"/>
<circle cx="36.6" cy="258.9" r="3.8" fill="#d0cac3" opacity="0.55"/>
<circle cx="77.1" cy="253.1" r="3.8" fill="#d5cfc8" opacity="0.55"/>
<circle cx="48.6" cy="221.5" r="5.4" fill="url(#gh)"/>
<circle cx="48.5" cy="221.2" r="1.1" fill="#8d4cab" opacity="0.8"/>
<circle cx="47.6" cy="220.3" r="1.1" fill="#8d4cab" opacity="0.8"/>
<circle cx="49.6" cy="223.4" r="1.1" fill="#8d4cab" opacity="0.8"/>
<circle cx="49.9" cy="222.0" r="1.1" fill="#8d4cab" opacity="0.8"/>
<circle cx="86.1" cy="223.6" r="4.8" fill="url(#gh)"/>
<circle cx="84.4" cy="222.9" r="1.0" fill="#8d4cab" opacity="0.8"/>
<circle cx="87.3" cy="225.3" r="1.0" fill="#8d4cab" opacity="0.8"/>
<circle cx="86.3" cy="223.9" r="1.0" fill="#8d4cab" opacity="0.8"/>
<circle cx="86.8" cy="222.7" r="1.0" fill="#8d4cab" opacity="0.8"/>
<circle cx="59.9" cy="234.9" r="3.4" fill="url(#gh)"/>
<circle cx="59.9" cy="234.9" r="1.6" fill="url(#gc)"/>
<circle cx="59.9" cy="234.9" r="0.7" fill="#6b3a86"/>
<circle cx="74.9" cy="235.2" r="5.4" fill="url(#gh)"/>
<circle cx="75.8" cy="234.6" r="1.1" fill="#8d4cab" opacity="0.8"/>
<circle cx="76.3" cy="235.0" r="1.1" fill="#8d4cab" opacity="0.8"/>
<circle cx="75.6" cy="235.4" r="1.1" fill="#8d4cab" opacity="0.8"/>
<circle cx="75.0" cy="235.0" r="1.1" fill="#8d4cab" opacity="0.8"/>
<circle cx="127.7" cy="237.6" r="6.8" fill="url(#gh)"/>
<ellipse cx="125.7" cy="237.6" rx="1.7" ry="2.4" fill="none" stroke="#8c42aa" stroke-width="0.9"/>
<ellipse cx="129.7" cy="237.6" rx="1.7" ry="2.4" fill="none" stroke="#8c42aa" stroke-width="0.9"/>
<circle cx="99.5" cy="250.5" r="5.8" fill="url(#gh)"/>
<circle cx="101.5" cy="251.6" r="1.2" fill="#8d4cab" opacity="0.8"/>
<circle cx="99.1" cy="250.5" r="1.2" fill="#8d4cab" opacity="0.8"/>
<circle cx="101.3" cy="251.6" r="1.2" fill="#8d4cab" opacity="0.8"/>
<circle cx="100.2" cy="252.5" r="1.2" fill="#8d4cab" opacity="0.8"/>
<circle cx="40.0" cy="255.0" r="4.1" fill="url(#gh)"/>
<circle cx="38.8" cy="255.3" r="0.8" fill="#8d4cab" opacity="0.8"/>
<circle cx="40.4" cy="254.9" r="0.8" fill="#8d4cab" opacity="0.8"/>
<circle cx="41.4" cy="256.5" r="0.8" fill="#8d4cab" opacity="0.8"/>
<circle cx="39.7" cy="255.4" r="0.8" fill="#8d4cab" opacity="0.8"/>
<circle cx="74.5" cy="258.0" r="4.1" fill="url(#gh)"/>
<circle cx="75.3" cy="258.6" r="0.8" fill="#8d4cab" opacity="0.8"/>
<circle cx="74.1" cy="258.9" r="0.8" fill="#8d4cab" opacity="0.8"/>
<circle cx="74.0" cy="256.9" r="0.8" fill="#8d4cab" opacity="0.8"/>
<circle cx="75.0" cy="258.5" r="0.8" fill="#8d4cab" opacity="0.8"/>
<circle cx="125.8" cy="253.2" r="3.7" fill="url(#gh)"/>
<circle cx="125.5" cy="253.2" r="0.7" fill="#8d4cab" opacity="0.8"/>
<circle cx="127.2" cy="254.1" r="0.7" fill="#8d4cab" opacity="0.8"/>
<circle cx="125.5" cy="254.4" r="0.7" fill="#8d4cab" opacity="0.8"/>
<circle cx="126.0" cy="252.9" r="0.7" fill="#8d4cab" opacity="0.8"/>
<circle cx="119.5" cy="260.6" r="3.2" fill="url(#gh)"/>
<circle cx="119.5" cy="260.6" r="1.5" fill="url(#gc)"/>
<circle cx="119.5" cy="260.6" r="0.7" fill="#6b3a86"/>
<circle cx="105.4" cy="273.7" r="4.4" fill="url(#gh)"/>
<circle cx="104.7" cy="272.8" r="2.0" fill="url(#gc)"/>
<circle cx="106.3" cy="274.5" r="2.0" fill="url(#gc)"/>
<circle cx="104.3" cy="273.2" r="2.0" fill="url(#gc)"/>
</g>
</g>
<rect x="34.2" y="264.3" width="24.5" height="17.5" fill="#e6d9e6" stroke="#2b2b2b" stroke-width="1.1"/>
<rect x="34.2" y="204.2" width="104.1" height="77.6" fill="none" stroke="#3a3a3a" stroke-width="1"/>
<text x="37.400000000000006" y="212.79999999999998" font-size="7.8" font-weight="bold" font-style="italic">FoxO3a<tspan font-size="6" dy="-2.3">-/-</tspan></text>
<g filter="url(#bl)">
<ellipse cx="41.5" cy="272.8" rx="4.6" ry="6" fill="#c79ad6" opacity="0.9"/><ellipse cx="52.3" cy="272" rx="5" ry="6" fill="#c79ad6" opacity="0.9"/>
<path d="M39.5 268.5 q-1.5 2 -0.3 4 q1 2 -0.2 4.2 M43 268 q1.6 1.6 0.2 3.8 q-1 2 0.6 4.6 M40 272.6 h3" stroke="#8444a8" stroke-width="2.2" fill="none" stroke-linecap="round"/>
<path d="M54.5 268.2 q-4.5 -0.5 -5.2 3 q-0.5 4 3 4.6 q3.6 0.3 3.6 -2.4 q-0.2 -2 -2.6 -1.8 M55.6 270 l-1.6 1.4" stroke="#8444a8" stroke-width="2.2" fill="none" stroke-linecap="round"/>
</g>
<rect x="34.2" y="264.3" width="24.5" height="17.5" fill="none" stroke="#2b2b2b" stroke-width="1.1"/>
<rect x="34.2" y="183.3" width="24.5" height="17.3" fill="none" stroke="#2b2b2b" stroke-width="1.1"/>
<line x1="114.4" y1="276.8" x2="135.1" y2="276.8" stroke="#48423e" stroke-width="1.5"/>
<line x1="59" y1="301" x2="59" y2="381.6" stroke="#111" stroke-width="1"/>
<line x1="59" y1="381.6" x2="123.6" y2="381.6" stroke="#111" stroke-width="1"/>
<line x1="59" y1="381.6" x2="60.5" y2="381.6" stroke="#111" stroke-width="0.8"/>
<text x="55.5" y="384.20000000000005" font-size="7.4" text-anchor="end" font-weight="bold" font-style="normal">0</text>
<line x1="59" y1="370.3" x2="60.5" y2="370.3" stroke="#111" stroke-width="0.8"/>
<text x="55.5" y="372.90000000000003" font-size="7.4" text-anchor="end" font-weight="bold" font-style="normal">10</text>
<line x1="59" y1="359.0" x2="60.5" y2="359.0" stroke="#111" stroke-width="0.8"/>
<text x="55.5" y="361.6" font-size="7.4" text-anchor="end" font-weight="bold" font-style="normal">20</text>
<line x1="59" y1="347.7" x2="60.5" y2="347.7" stroke="#111" stroke-width="0.8"/>
<text x="55.5" y="350.3" font-size="7.4" text-anchor="end" font-weight="bold" font-style="normal">30</text>
<line x1="59" y1="336.40000000000003" x2="60.5" y2="336.40000000000003" stroke="#111" stroke-width="0.8"/>
<text x="55.5" y="339.00000000000006" font-size="7.4" text-anchor="end" font-weight="bold" font-style="normal">40</text>
<line x1="59" y1="325.1" x2="60.5" y2="325.1" stroke="#111" stroke-width="0.8"/>
<text x="55.5" y="327.70000000000005" font-size="7.4" text-anchor="end" font-weight="bold" font-style="normal">50</text>
<line x1="59" y1="313.8" x2="60.5" y2="313.8" stroke="#111" stroke-width="0.8"/>
<text x="55.5" y="316.40000000000003" font-size="7.4" text-anchor="end" font-weight="bold" font-style="normal">60</text>
<line x1="59" y1="302.5" x2="60.5" y2="302.5" stroke="#111" stroke-width="0.8"/>
<text x="55.5" y="305.1" font-size="7.4" text-anchor="end" font-weight="bold" font-style="normal">70</text>
<rect x="68.4" y="370.3" width="18.2" height="11.300000000000011" fill="#fff" stroke="#111" stroke-width="1"/>
<line x1="77.5" y1="369.509" x2="77.5" y2="370.3" stroke="#111" stroke-width="0.7"/>
<line x1="76.0" y1="369.509" x2="79.0" y2="369.509" stroke="#111" stroke-width="0.7"/>
<line x1="76.0" y1="370.3" x2="79.0" y2="370.3" stroke="#111" stroke-width="0.7"/>
<rect x="95" y="326.23" width="18.3" height="55.370000000000005" fill="#111" stroke="#111" stroke-width="1"/>
<line x1="104.3" y1="313.235" x2="104.3" y2="326.23" stroke="#111" stroke-width="0.9"/>
<line x1="102.8" y1="313.235" x2="105.8" y2="313.235" stroke="#111" stroke-width="0.9"/>
<line x1="102.8" y1="326.23" x2="105.8" y2="326.23" stroke="#111" stroke-width="0.9"/>
<text x="104.5" y="307.3" font-size="7.5" text-anchor="middle" font-weight="bold" font-style="normal">*</text>
<text x="76.4" y="391.5" font-size="9" text-anchor="middle" font-weight="bold" font-style="italic">+/+</text>
<text x="103.2" y="391.5" font-size="9" text-anchor="middle" font-weight="bold" font-style="italic">-/-</text>
<text x="117.8" y="391.5" font-size="9" text-anchor="start" font-weight="bold" font-style="italic">FoxO3a</text>
<text x="43.2" y="341.8" font-size="8.7" text-anchor="middle" font-weight="bold" font-style="normal" transform="rotate(-90 43.2 341.8)" textLength="61.5" lengthAdjust="spacingAndGlyphs">Neutrophils (%)</text>
<line x1="223.1" y1="3.9000000000000004" x2="223.1" y2="84.2" stroke="#111" stroke-width="1.1"/>
<line x1="222.6" y1="84.2" x2="302.8" y2="84.2" stroke="#111" stroke-width="1.1"/>
<line x1="223.1" y1="84.2" x2="224.7" y2="84.2" stroke="#111" stroke-width="0.8"/>
<text x="219.7" y="88.1" font-size="7.7" text-anchor="end" font-weight="bold" font-style="normal">0</text>
<line x1="223.1" y1="70.86666666666667" x2="224.7" y2="70.86666666666667" stroke="#111" stroke-width="0.8"/>
<text x="219.7" y="74.31666666666666" font-size="7.7" text-anchor="end" font-weight="bold" font-style="normal">5</text>
<line x1="223.1" y1="57.53333333333333" x2="224.7" y2="57.53333333333333" stroke="#111" stroke-width="0.8"/>
<text x="219.7" y="60.53333333333333" font-size="7.7" text-anchor="end" font-weight="bold" font-style="normal">10</text>
<line x1="223.1" y1="44.2" x2="224.7" y2="44.2" stroke="#111" stroke-width="0.8"/>
<text x="219.7" y="46.75" font-size="7.7" text-anchor="end" font-weight="bold" font-style="normal">15</text>
<line x1="223.1" y1="30.866666666666667" x2="224.7" y2="30.866666666666667" stroke="#111" stroke-width="0.8"/>
<text x="219.7" y="32.96666666666667" font-size="7.7" text-anchor="end" font-weight="bold" font-style="normal">20</text>
<line x1="223.1" y1="17.53333333333333" x2="224.7" y2="17.53333333333333" stroke="#111" stroke-width="0.8"/>
<text x="219.7" y="19.183333333333337" font-size="7.7" text-anchor="end" font-weight="bold" font-style="normal">25</text>
<line x1="223.1" y1="4.200000000000003" x2="224.7" y2="4.200000000000003" stroke="#111" stroke-width="0.8"/>
<text x="219.7" y="5.400000000000006" font-size="7.7" text-anchor="end" font-weight="bold" font-style="normal">30</text>
<line x1="223.1" y1="77.53333333333333" x2="224.1" y2="77.53333333333333" stroke="#111" stroke-width="0.6"/>
<line x1="223.1" y1="64.2" x2="224.1" y2="64.2" stroke="#111" stroke-width="0.6"/>
<line x1="223.1" y1="50.86666666666667" x2="224.1" y2="50.86666666666667" stroke="#111" stroke-width="0.6"/>
<line x1="223.1" y1="37.53333333333333" x2="224.1" y2="37.53333333333333" stroke="#111" stroke-width="0.6"/>
<line x1="223.1" y1="24.2" x2="224.1" y2="24.2" stroke="#111" stroke-width="0.6"/>
<line x1="223.1" y1="10.866666666666667" x2="224.1" y2="10.866666666666667" stroke="#111" stroke-width="0.6"/>
<rect x="228.6" y="73.2" width="14.400000000000006" height="11.0" fill="#fff" stroke="#111" stroke-width="1"/>
<line x1="235.8" y1="72.5" x2="235.8" y2="73.2" stroke="#111" stroke-width="0.95"/>
<line x1="234.5" y1="72.5" x2="237.10000000000002" y2="72.5" stroke="#111" stroke-width="0.95"/>
<line x1="234.5" y1="73.2" x2="237.10000000000002" y2="73.2" stroke="#111" stroke-width="0.95"/>
<rect x="254.6" y="51.7" width="14.799999999999983" height="32.5" fill="#fff" stroke="#111" stroke-width="1"/>
<line x1="262.0" y1="45" x2="262.0" y2="51.7" stroke="#111" stroke-width="0.95"/>
<line x1="260.7" y1="45" x2="263.3" y2="45" stroke="#111" stroke-width="0.95"/>
<line x1="260.7" y1="51.7" x2="263.3" y2="51.7" stroke="#111" stroke-width="0.95"/>
<rect x="280.4" y="39.2" width="14.600000000000023" height="45.0" fill="#111" stroke="#111" stroke-width="1"/>
<line x1="287.7" y1="16.7" x2="287.7" y2="39.2" stroke="#111" stroke-width="0.95"/>
<line x1="286.4" y1="16.7" x2="289.0" y2="16.7" stroke="#111" stroke-width="0.95"/>
<line x1="286.4" y1="39.2" x2="289.0" y2="39.2" stroke="#111" stroke-width="0.95"/>
<line x1="249.5" y1="84.2" x2="249.5" y2="82.8" stroke="#111" stroke-width="0.8"/>
<line x1="275.8" y1="84.2" x2="275.8" y2="82.8" stroke="#111" stroke-width="0.8"/>
<line x1="302.4" y1="84.2" x2="302.4" y2="82.8" stroke="#111" stroke-width="0.8"/>
<text x="235.2" y="94.8" font-size="9" text-anchor="middle" font-weight="bold" font-style="italic">+/+</text>
<text x="262.2" y="94.8" font-size="9" text-anchor="middle" font-weight="bold" font-style="italic">+/+</text>
<text x="288.6" y="94.8" font-size="9" text-anchor="middle" font-weight="bold" font-style="italic">-/-</text>
<text x="297.2" y="94.8" font-size="9" text-anchor="start" font-weight="bold" font-style="italic">FoxO3a</text>
<text x="235.2" y="103.1" font-size="9" text-anchor="middle" font-weight="bold" font-style="normal">-</text>
<text x="262.3" y="103.6" font-size="9" text-anchor="middle" font-weight="bold" font-style="normal">+</text>
<text x="288.7" y="103.6" font-size="9" text-anchor="middle" font-weight="bold" font-style="normal">+</text>
<text x="298.2" y="103.6" font-size="9" text-anchor="start" font-weight="bold" font-style="normal">5-FU</text>
<text x="204.4" y="45.8" font-size="9.3" text-anchor="middle" font-weight="bold" font-style="normal" transform="rotate(-90 204.4 45.8)" textLength="62" lengthAdjust="spacingAndGlyphs">Ly6G<tspan font-size="6" dy="-2">+</tspan><tspan dy="2">Gr1</tspan><tspan font-size="6" dy="-2">+</tspan><tspan dy="2"> (%)</tspan></text>
<line x1="223.1" y1="107.0" x2="223.1" y2="186.6" stroke="#111" stroke-width="1.1"/>
<line x1="222.6" y1="186.6" x2="302.8" y2="186.6" stroke="#111" stroke-width="1.1"/>
<line x1="223.1" y1="186.6" x2="224.7" y2="186.6" stroke="#111" stroke-width="0.8"/>
<text x="219.7" y="191.2" font-size="7.7" text-anchor="end" font-weight="bold" font-style="normal">0</text>
<line x1="223.1" y1="170.74" x2="224.7" y2="170.74" stroke="#111" stroke-width="0.8"/>
<text x="219.7" y="174.57999999999998" font-size="7.7" text-anchor="end" font-weight="bold" font-style="normal">10</text>
<line x1="223.1" y1="154.88" x2="224.7" y2="154.88" stroke="#111" stroke-width="0.8"/>
<text x="219.7" y="157.95999999999998" font-size="7.7" text-anchor="end" font-weight="bold" font-style="normal">20</text>
<line x1="223.1" y1="139.01999999999998" x2="224.7" y2="139.01999999999998" stroke="#111" stroke-width="0.8"/>
<text x="219.7" y="141.33999999999997" font-size="7.7" text-anchor="end" font-weight="bold" font-style="normal">30</text>
<line x1="223.1" y1="123.16" x2="224.7" y2="123.16" stroke="#111" stroke-width="0.8"/>
<text x="219.7" y="124.72" font-size="7.7" text-anchor="end" font-weight="bold" font-style="normal">40</text>
<line x1="223.1" y1="107.3" x2="224.7" y2="107.3" stroke="#111" stroke-width="0.8"/>
<text x="219.7" y="108.1" font-size="7.7" text-anchor="end" font-weight="bold" font-style="normal">50</text>
<line x1="223.1" y1="178.67000000000002" x2="224.1" y2="178.67000000000002" stroke="#111" stroke-width="0.6"/>
<line x1="223.1" y1="162.81" x2="224.1" y2="162.81" stroke="#111" stroke-width="0.6"/>
<line x1="223.1" y1="146.95" x2="224.1" y2="146.95" stroke="#111" stroke-width="0.6"/>
<line x1="223.1" y1="131.08999999999997" x2="224.1" y2="131.08999999999997" stroke="#111" stroke-width="0.6"/>
<line x1="223.1" y1="115.22999999999999" x2="224.1" y2="115.22999999999999" stroke="#111" stroke-width="0.6"/>
<rect x="228.6" y="116.3" width="14.400000000000006" height="70.3" fill="#fff" stroke="#111" stroke-width="1"/>
<line x1="235.8" y1="111.5" x2="235.8" y2="116.3" stroke="#111" stroke-width="0.95"/>
<line x1="234.5" y1="111.5" x2="237.10000000000002" y2="111.5" stroke="#111" stroke-width="0.95"/>
<line x1="234.5" y1="116.3" x2="237.10000000000002" y2="116.3" stroke="#111" stroke-width="0.95"/>
<rect x="254.6" y="157" width="14.799999999999983" height="29.599999999999994" fill="#fff" stroke="#111" stroke-width="1"/>
<line x1="262.0" y1="154" x2="262.0" y2="157" stroke="#111" stroke-width="0.95"/>
<line x1="260.7" y1="154" x2="263.3" y2="154" stroke="#111" stroke-width="0.95"/>
<line x1="260.7" y1="157" x2="263.3" y2="157" stroke="#111" stroke-width="0.95"/>
<rect x="280.4" y="166.2" width="14.600000000000023" height="20.400000000000006" fill="#111" stroke="#111" stroke-width="1"/>
<line x1="287.7" y1="157.5" x2="287.7" y2="166.2" stroke="#111" stroke-width="0.95"/>
<line x1="286.4" y1="157.5" x2="289.0" y2="157.5" stroke="#111" stroke-width="0.95"/>
<line x1="286.4" y1="166.2" x2="289.0" y2="166.2" stroke="#111" stroke-width="0.95"/>
<line x1="249.5" y1="186.6" x2="249.5" y2="185.2" stroke="#111" stroke-width="0.8"/>
<line x1="275.8" y1="186.6" x2="275.8" y2="185.2" stroke="#111" stroke-width="0.8"/>
<line x1="302.4" y1="186.6" x2="302.4" y2="185.2" stroke="#111" stroke-width="0.8"/>
<text x="235.2" y="196.6" font-size="9" text-anchor="middle" font-weight="bold" font-style="italic">+/+</text>
<text x="262.2" y="196.6" font-size="9" text-anchor="middle" font-weight="bold" font-style="italic">+/+</text>
<text x="288.6" y="196.6" font-size="9" text-anchor="middle" font-weight="bold" font-style="italic">-/-</text>
<text x="297.2" y="196.6" font-size="9" text-anchor="start" font-weight="bold" font-style="italic">FoxO3a</text>
<text x="235.2" y="205.1" font-size="9" text-anchor="middle" font-weight="bold" font-style="normal">-</text>
<text x="262.3" y="205.6" font-size="9" text-anchor="middle" font-weight="bold" font-style="normal">+</text>
<text x="288.7" y="205.6" font-size="9" text-anchor="middle" font-weight="bold" font-style="normal">+</text>
<text x="298.2" y="205.6" font-size="9" text-anchor="start" font-weight="bold" font-style="normal">5-FU</text>
<text x="205.2" y="143.3" font-size="9.3" text-anchor="middle" font-weight="bold" font-style="normal" transform="rotate(-90 205.2 143.3)" textLength="40" lengthAdjust="spacingAndGlyphs">CD3<tspan font-size="6" dy="-2">+</tspan><tspan dy="2"> (%)</tspan></text>
<line x1="223.1" y1="208.89999999999998" x2="223.1" y2="288.8" stroke="#111" stroke-width="1.1"/>
<line x1="222.6" y1="288.8" x2="302.8" y2="288.8" stroke="#111" stroke-width="1.1"/>
<line x1="223.1" y1="288.8" x2="224.7" y2="288.8" stroke="#111" stroke-width="0.8"/>
<text x="219.7" y="291.3" font-size="7.7" text-anchor="end" font-weight="bold" font-style="normal">0</text>
<line x1="223.1" y1="277.42857142857144" x2="224.7" y2="277.42857142857144" stroke="#111" stroke-width="0.8"/>
<text x="219.7" y="279.6857142857143" font-size="7.7" text-anchor="end" font-weight="bold" font-style="normal">10</text>
<line x1="223.1" y1="266.0571428571429" x2="224.7" y2="266.0571428571429" stroke="#111" stroke-width="0.8"/>
<text x="219.7" y="268.07142857142856" font-size="7.7" text-anchor="end" font-weight="bold" font-style="normal">20</text>
<line x1="223.1" y1="254.68571428571428" x2="224.7" y2="254.68571428571428" stroke="#111" stroke-width="0.8"/>
<text x="219.7" y="256.45714285714286" font-size="7.7" text-anchor="end" font-weight="bold" font-style="normal">30</text>
<line x1="223.1" y1="243.31428571428572" x2="224.7" y2="243.31428571428572" stroke="#111" stroke-width="0.8"/>
<text x="219.7" y="244.84285714285716" font-size="7.7" text-anchor="end" font-weight="bold" font-style="normal">40</text>
<line x1="223.1" y1="231.94285714285715" x2="224.7" y2="231.94285714285715" stroke="#111" stroke-width="0.8"/>
<text x="219.7" y="233.22857142857143" font-size="7.7" text-anchor="end" font-weight="bold" font-style="normal">50</text>
<line x1="223.1" y1="220.57142857142856" x2="224.7" y2="220.57142857142856" stroke="#111" stroke-width="0.8"/>
<text x="219.7" y="221.6142857142857" font-size="7.7" text-anchor="end" font-weight="bold" font-style="normal">60</text>
<line x1="223.1" y1="209.2" x2="224.7" y2="209.2" stroke="#111" stroke-width="0.8"/>
<text x="219.7" y="210.0" font-size="7.7" text-anchor="end" font-weight="bold" font-style="normal">70</text>
<line x1="223.1" y1="283.11428571428576" x2="224.1" y2="283.11428571428576" stroke="#111" stroke-width="0.6"/>
<line x1="223.1" y1="271.74285714285713" x2="224.1" y2="271.74285714285713" stroke="#111" stroke-width="0.6"/>
<line x1="223.1" y1="260.37142857142857" x2="224.1" y2="260.37142857142857" stroke="#111" stroke-width="0.6"/>
<line x1="223.1" y1="249.0" x2="224.1" y2="249.0" stroke="#111" stroke-width="0.6"/>
<line x1="223.1" y1="237.62857142857143" x2="224.1" y2="237.62857142857143" stroke="#111" stroke-width="0.6"/>
<line x1="223.1" y1="226.25714285714287" x2="224.1" y2="226.25714285714287" stroke="#111" stroke-width="0.6"/>
<line x1="223.1" y1="214.88571428571427" x2="224.1" y2="214.88571428571427" stroke="#111" stroke-width="0.6"/>
<rect x="228.6" y="244.2" width="14.400000000000006" height="44.60000000000002" fill="#fff" stroke="#111" stroke-width="1"/>
<line x1="235.8" y1="241.2" x2="235.8" y2="244.2" stroke="#111" stroke-width="0.95"/>
<line x1="234.5" y1="241.2" x2="237.10000000000002" y2="241.2" stroke="#111" stroke-width="0.95"/>
<line x1="234.5" y1="244.2" x2="237.10000000000002" y2="244.2" stroke="#111" stroke-width="0.95"/>
<rect x="254.6" y="231.2" width="14.799999999999983" height="57.60000000000002" fill="#fff" stroke="#111" stroke-width="1"/>
<line x1="262.0" y1="223.2" x2="262.0" y2="231.2" stroke="#111" stroke-width="0.95"/>
<line x1="260.7" y1="223.2" x2="263.3" y2="223.2" stroke="#111" stroke-width="0.95"/>
<line x1="260.7" y1="231.2" x2="263.3" y2="231.2" stroke="#111" stroke-width="0.95"/>
<rect x="280.4" y="259.2" width="14.600000000000023" height="29.600000000000023" fill="#111" stroke="#111" stroke-width="1"/>
<line x1="287.7" y1="254.2" x2="287.7" y2="259.2" stroke="#111" stroke-width="0.95"/>
<line x1="286.4" y1="254.2" x2="289.0" y2="254.2" stroke="#111" stroke-width="0.95"/>
<line x1="286.4" y1="259.2" x2="289.0" y2="259.2" stroke="#111" stroke-width="0.95"/>
<line x1="249.5" y1="288.8" x2="249.5" y2="287.40000000000003" stroke="#111" stroke-width="0.8"/>
<line x1="275.8" y1="288.8" x2="275.8" y2="287.40000000000003" stroke="#111" stroke-width="0.8"/>
<line x1="302.4" y1="288.8" x2="302.4" y2="287.40000000000003" stroke="#111" stroke-width="0.8"/>
<text x="235.2" y="297.2" font-size="9" text-anchor="middle" font-weight="bold" font-style="italic">+/+</text>
<text x="262.2" y="297.2" font-size="9" text-anchor="middle" font-weight="bold" font-style="italic">+/+</text>
<text x="288.6" y="297.2" font-size="9" text-anchor="middle" font-weight="bold" font-style="italic">-/-</text>
<text x="297.2" y="297.2" font-size="9" text-anchor="start" font-weight="bold" font-style="italic">FoxO3a</text>
<text x="235.2" y="306.1" font-size="9" text-anchor="middle" font-weight="bold" font-style="normal">-</text>
<text x="262.3" y="306.6" font-size="9" text-anchor="middle" font-weight="bold" font-style="normal">+</text>
<text x="288.7" y="306.6" font-size="9" text-anchor="middle" font-weight="bold" font-style="normal">+</text>
<text x="298.2" y="306.6" font-size="9" text-anchor="start" font-weight="bold" font-style="normal">5-FU</text>
<text x="205.2" y="246.4" font-size="9.3" text-anchor="middle" font-weight="bold" font-style="normal" transform="rotate(-90 205.2 246.4)" textLength="43.2" lengthAdjust="spacingAndGlyphs">B220<tspan font-size="6" dy="-2">+</tspan><tspan dy="2"> (%)</tspan></text>
<line x1="223.1" y1="306.2" x2="223.1" y2="385.8" stroke="#111" stroke-width="1.1"/>
<line x1="222.6" y1="385.8" x2="302.8" y2="385.8" stroke="#111" stroke-width="1.1"/>
<line x1="223.1" y1="385.8" x2="224.7" y2="385.8" stroke="#111" stroke-width="0.8"/>
<text x="219.7" y="388.7" font-size="7.7" text-anchor="end" font-weight="bold" font-style="normal">0</text>
<line x1="223.1" y1="369.94" x2="224.7" y2="369.94" stroke="#111" stroke-width="0.8"/>
<text x="219.7" y="372.68" font-size="7.7" text-anchor="end" font-weight="bold" font-style="normal">10</text>
<line x1="223.1" y1="354.08" x2="224.7" y2="354.08" stroke="#111" stroke-width="0.8"/>
<text x="219.7" y="356.66" font-size="7.7" text-anchor="end" font-weight="bold" font-style="normal">20</text>
<line x1="223.1" y1="338.22" x2="224.7" y2="338.22" stroke="#111" stroke-width="0.8"/>
<text x="219.7" y="340.64" font-size="7.7" text-anchor="end" font-weight="bold" font-style="normal">30</text>
<line x1="223.1" y1="322.36" x2="224.7" y2="322.36" stroke="#111" stroke-width="0.8"/>
<text x="219.7" y="324.62" font-size="7.7" text-anchor="end" font-weight="bold" font-style="normal">40</text>
<line x1="223.1" y1="306.5" x2="224.7" y2="306.5" stroke="#111" stroke-width="0.8"/>
<text x="219.7" y="308.6" font-size="7.7" text-anchor="end" font-weight="bold" font-style="normal">50</text>
<line x1="223.1" y1="377.87" x2="224.1" y2="377.87" stroke="#111" stroke-width="0.6"/>
<line x1="223.1" y1="362.01" x2="224.1" y2="362.01" stroke="#111" stroke-width="0.6"/>
<line x1="223.1" y1="346.15" x2="224.1" y2="346.15" stroke="#111" stroke-width="0.6"/>
<line x1="223.1" y1="330.29" x2="224.1" y2="330.29" stroke="#111" stroke-width="0.6"/>
<line x1="223.1" y1="314.43" x2="224.1" y2="314.43" stroke="#111" stroke-width="0.6"/>
<rect x="228.6" y="366.4" width="14.400000000000006" height="19.400000000000034" fill="#fff" stroke="#111" stroke-width="1"/>
<line x1="235.8" y1="365.2" x2="235.8" y2="366.4" stroke="#111" stroke-width="0.95"/>
<line x1="234.5" y1="365.2" x2="237.10000000000002" y2="365.2" stroke="#111" stroke-width="0.95"/>
<line x1="234.5" y1="366.4" x2="237.10000000000002" y2="366.4" stroke="#111" stroke-width="0.95"/>
<rect x="254.6" y="347.2" width="14.799999999999983" height="38.60000000000002" fill="#fff" stroke="#111" stroke-width="1"/>
<line x1="262.0" y1="343" x2="262.0" y2="347.2" stroke="#111" stroke-width="0.95"/>
<line x1="260.7" y1="343" x2="263.3" y2="343" stroke="#111" stroke-width="0.95"/>
<line x1="260.7" y1="347.2" x2="263.3" y2="347.2" stroke="#111" stroke-width="0.95"/>
<rect x="280.4" y="332.2" width="14.600000000000023" height="53.60000000000002" fill="#111" stroke="#111" stroke-width="1"/>
<line x1="287.7" y1="313" x2="287.7" y2="332.2" stroke="#111" stroke-width="0.95"/>
<line x1="286.4" y1="313" x2="289.0" y2="313" stroke="#111" stroke-width="0.95"/>
<line x1="286.4" y1="332.2" x2="289.0" y2="332.2" stroke="#111" stroke-width="0.95"/>
<line x1="249.5" y1="385.8" x2="249.5" y2="384.40000000000003" stroke="#111" stroke-width="0.8"/>
<line x1="275.8" y1="385.8" x2="275.8" y2="384.40000000000003" stroke="#111" stroke-width="0.8"/>
<line x1="302.4" y1="385.8" x2="302.4" y2="384.40000000000003" stroke="#111" stroke-width="0.8"/>
<text x="235.2" y="394.8" font-size="9" text-anchor="middle" font-weight="bold" font-style="italic">+/+</text>
<text x="262.2" y="394.8" font-size="9" text-anchor="middle" font-weight="bold" font-style="italic">+/+</text>
<text x="288.6" y="394.8" font-size="9" text-anchor="middle" font-weight="bold" font-style="italic">-/-</text>
<text x="297.2" y="394.8" font-size="9" text-anchor="start" font-weight="bold" font-style="italic">FoxO3a</text>
<text x="235.2" y="402.8" font-size="9" text-anchor="middle" font-weight="bold" font-style="normal">-</text>
<text x="262.3" y="403.3" font-size="9" text-anchor="middle" font-weight="bold" font-style="normal">+</text>
<text x="288.7" y="403.3" font-size="9" text-anchor="middle" font-weight="bold" font-style="normal">+</text>
<text x="298.2" y="403.3" font-size="9" text-anchor="start" font-weight="bold" font-style="normal">5-FU</text>
<text x="206.8" y="344" font-size="9.3" text-anchor="middle" font-weight="bold" font-style="normal" transform="rotate(-90 206.8 344)" textLength="43.3" lengthAdjust="spacingAndGlyphs">Mac1<tspan font-size="6" dy="-2">+</tspan><tspan dy="2"> (%)</tspan></text>
<line x1="385.4" y1="29.6" x2="385.4" y2="108.1" stroke="#111" stroke-width="1"/>
<line x1="385.4" y1="108.1" x2="503.8" y2="108.1" stroke="#111" stroke-width="1"/>
<line x1="385.4" y1="108.1" x2="386.9" y2="108.1" stroke="#111" stroke-width="0.8"/>
<text x="382.7" y="110.5" font-size="6.7" text-anchor="end" font-weight="bold" font-style="normal">0</text>
<line x1="385.4" y1="95.18333333333332" x2="386.9" y2="95.18333333333332" stroke="#111" stroke-width="0.8"/>
<text x="382.7" y="97.58333333333333" font-size="6.7" text-anchor="end" font-weight="bold" font-style="normal">5</text>
<line x1="385.4" y1="82.26666666666667" x2="386.9" y2="82.26666666666667" stroke="#111" stroke-width="0.8"/>
<text x="382.7" y="84.66666666666667" font-size="6.7" text-anchor="end" font-weight="bold" font-style="normal">10</text>
<line x1="385.4" y1="69.35" x2="386.9" y2="69.35" stroke="#111" stroke-width="0.8"/>
<text x="382.7" y="71.75" font-size="6.7" text-anchor="end" font-weight="bold" font-style="normal">15</text>
<line x1="385.4" y1="56.43333333333333" x2="386.9" y2="56.43333333333333" stroke="#111" stroke-width="0.8"/>
<text x="382.7" y="58.83333333333333" font-size="6.7" text-anchor="end" font-weight="bold" font-style="normal">20</text>
<line x1="385.4" y1="43.516666666666666" x2="386.9" y2="43.516666666666666" stroke="#111" stroke-width="0.8"/>
<text x="382.7" y="45.916666666666664" font-size="6.7" text-anchor="end" font-weight="bold" font-style="normal">25</text>
<line x1="385.4" y1="30.599999999999994" x2="386.9" y2="30.599999999999994" stroke="#111" stroke-width="0.8"/>
<text x="382.7" y="32.99999999999999" font-size="6.7" text-anchor="end" font-weight="bold" font-style="normal">30</text>
<line x1="415.0" y1="108.1" x2="415.0" y2="106.5" stroke="#111" stroke-width="0.8"/>
<line x1="444.25" y1="108.1" x2="444.25" y2="106.5" stroke="#111" stroke-width="0.8"/>
<line x1="473.5" y1="108.1" x2="473.5" y2="106.5" stroke="#111" stroke-width="0.8"/>
<text x="389.4" y="34.800000000000004" font-size="8.9" text-anchor="start" font-weight="bold" font-style="normal">10<tspan font-family="Liberation Serif, serif" font-weight="normal">µ</tspan>g/kg</text>
<text x="369.5" y="68.85" font-size="7.6" text-anchor="middle" font-weight="bold" font-style="normal" transform="rotate(-90 369.5 68.85)" textLength="63" lengthAdjust="spacingAndGlyphs">WBCs (x1000/<tspan font-family="Liberation Serif, serif" font-weight="normal">µ</tspan>l)</text>
<polyline fill="none" stroke="#111" stroke-width="0.9" points="400.5,89.5 429.5,79.2 459.0,84.8 488.0,90.5"/>
<polyline fill="none" stroke="#111" stroke-width="0.9" points="400.5,85.9 429.5,75.8 459.0,86.9 488.0,87.4"/>
<line x1="400.5" y1="86.39999999999999" x2="400.5" y2="92.6" stroke="#111" stroke-width="0.7"/>
<line x1="399.0" y1="86.39999999999999" x2="402.0" y2="86.39999999999999" stroke="#111" stroke-width="0.7"/>
<line x1="399.0" y1="92.6" x2="402.0" y2="92.6" stroke="#111" stroke-width="0.7"/>
<rect x="398.4" y="87.4" width="4.2" height="4.2" fill="#fff" stroke="#111" stroke-width="0.9"/>
<line x1="429.5" y1="74.0" x2="429.5" y2="84.33333333333333" stroke="#111" stroke-width="0.7"/>
<line x1="428.0" y1="74.0" x2="431.0" y2="74.0" stroke="#111" stroke-width="0.7"/>
<line x1="428.0" y1="84.33333333333333" x2="431.0" y2="84.33333333333333" stroke="#111" stroke-width="0.7"/>
<rect x="427.4" y="77.1" width="4.2" height="4.2" fill="#fff" stroke="#111" stroke-width="0.9"/>
<line x1="459" y1="80.71666666666667" x2="459" y2="88.98333333333332" stroke="#111" stroke-width="0.7"/>
<line x1="457.5" y1="80.71666666666667" x2="460.5" y2="80.71666666666667" stroke="#111" stroke-width="0.7"/>
<line x1="457.5" y1="88.98333333333332" x2="460.5" y2="88.98333333333332" stroke="#111" stroke-width="0.7"/>
<rect x="456.9" y="82.8" width="4.2" height="4.2" fill="#fff" stroke="#111" stroke-width="0.9"/>
<line x1="488" y1="87.94999999999999" x2="488" y2="93.11666666666666" stroke="#111" stroke-width="0.7"/>
<line x1="486.5" y1="87.94999999999999" x2="489.5" y2="87.94999999999999" stroke="#111" stroke-width="0.7"/>
<line x1="486.5" y1="93.11666666666666" x2="489.5" y2="93.11666666666666" stroke="#111" stroke-width="0.7"/>
<rect x="485.9" y="88.4" width="4.2" height="4.2" fill="#fff" stroke="#111" stroke-width="0.9"/>
<line x1="400.5" y1="81.75" x2="400.5" y2="90.01666666666667" stroke="#111" stroke-width="0.7"/>
<line x1="399.0" y1="81.75" x2="402.0" y2="81.75" stroke="#111" stroke-width="0.7"/>
<line x1="399.0" y1="90.01666666666667" x2="402.0" y2="90.01666666666667" stroke="#111" stroke-width="0.7"/>
<rect x="398.0" y="83.4" width="5" height="5" fill="#111"/>
<line x1="429.5" y1="71.15833333333333" x2="429.5" y2="80.45833333333333" stroke="#111" stroke-width="0.7"/>
<line x1="428.0" y1="71.15833333333333" x2="431.0" y2="71.15833333333333" stroke="#111" stroke-width="0.7"/>
<line x1="428.0" y1="80.45833333333333" x2="431.0" y2="80.45833333333333" stroke="#111" stroke-width="0.7"/>
<rect x="427.0" y="73.3" width="5" height="5" fill="#111"/>
<line x1="459" y1="83.81666666666666" x2="459" y2="90.01666666666667" stroke="#111" stroke-width="0.7"/>
<line x1="457.5" y1="83.81666666666666" x2="460.5" y2="83.81666666666666" stroke="#111" stroke-width="0.7"/>
<line x1="457.5" y1="90.01666666666667" x2="460.5" y2="90.01666666666667" stroke="#111" stroke-width="0.7"/>
<rect x="456.5" y="84.4" width="5" height="5" fill="#111"/>
<line x1="488" y1="84.85" x2="488" y2="90.01666666666667" stroke="#111" stroke-width="0.7"/>
<line x1="486.5" y1="84.85" x2="489.5" y2="84.85" stroke="#111" stroke-width="0.7"/>
<line x1="486.5" y1="90.01666666666667" x2="489.5" y2="90.01666666666667" stroke="#111" stroke-width="0.7"/>
<rect x="485.5" y="84.9" width="5" height="5" fill="#111"/>
<text x="401" y="119.1" font-size="7.7" text-anchor="middle" font-weight="bold" font-style="normal">0</text>
<text x="429.2" y="119.1" font-size="7.7" text-anchor="middle" font-weight="bold" font-style="normal">2</text>
<text x="459.1" y="119.1" font-size="7.7" text-anchor="middle" font-weight="bold" font-style="normal">5</text>
<text x="488" y="119.1" font-size="7.7" text-anchor="middle" font-weight="bold" font-style="normal">8</text>
<text x="502.2" y="119.1" font-size="7.7" text-anchor="start" font-weight="bold" font-style="normal">(day)</text>
<line x1="384.5" y1="139.4" x2="384.5" y2="216.3" stroke="#111" stroke-width="1"/>
<line x1="384.5" y1="216.3" x2="502.5" y2="216.3" stroke="#111" stroke-width="1"/>
<line x1="384.5" y1="216.3" x2="386.0" y2="216.3" stroke="#111" stroke-width="0.8"/>
<text x="381.8" y="218.70000000000002" font-size="6.7" text-anchor="end" font-weight="bold" font-style="normal">0</text>
<line x1="384.5" y1="203.65" x2="386.0" y2="203.65" stroke="#111" stroke-width="0.8"/>
<text x="381.8" y="206.05" font-size="6.7" text-anchor="end" font-weight="bold" font-style="normal">5</text>
<line x1="384.5" y1="191.0" x2="386.0" y2="191.0" stroke="#111" stroke-width="0.8"/>
<text x="381.8" y="193.4" font-size="6.7" text-anchor="end" font-weight="bold" font-style="normal">10</text>
<line x1="384.5" y1="178.35000000000002" x2="386.0" y2="178.35000000000002" stroke="#111" stroke-width="0.8"/>
<text x="381.8" y="180.75000000000003" font-size="6.7" text-anchor="end" font-weight="bold" font-style="normal">15</text>
<line x1="384.5" y1="165.70000000000002" x2="386.0" y2="165.70000000000002" stroke="#111" stroke-width="0.8"/>
<text x="381.8" y="168.10000000000002" font-size="6.7" text-anchor="end" font-weight="bold" font-style="normal">20</text>
<line x1="384.5" y1="153.05" x2="386.0" y2="153.05" stroke="#111" stroke-width="0.8"/>
<text x="381.8" y="155.45000000000002" font-size="6.7" text-anchor="end" font-weight="bold" font-style="normal">25</text>
<line x1="384.5" y1="140.4" x2="386.0" y2="140.4" stroke="#111" stroke-width="0.8"/>
<text x="381.8" y="142.8" font-size="6.7" text-anchor="end" font-weight="bold" font-style="normal">30</text>
<line x1="413.7" y1="216.3" x2="413.7" y2="214.70000000000002" stroke="#111" stroke-width="0.8"/>
<line x1="443.35" y1="216.3" x2="443.35" y2="214.70000000000002" stroke="#111" stroke-width="0.8"/>
<line x1="473.0" y1="216.3" x2="473.0" y2="214.70000000000002" stroke="#111" stroke-width="0.8"/>
<text x="387.6" y="143.70000000000002" font-size="8.9" text-anchor="start" font-weight="bold" font-style="normal">50<tspan font-family="Liberation Serif, serif" font-weight="normal">µ</tspan>g/kg</text>
<text x="369.5" y="177.85000000000002" font-size="7.6" text-anchor="middle" font-weight="bold" font-style="normal" transform="rotate(-90 369.5 177.85000000000002)" textLength="63" lengthAdjust="spacingAndGlyphs">WBCs (x1000/<tspan font-family="Liberation Serif, serif" font-weight="normal">µ</tspan>l)</text>
<polyline fill="none" stroke="#111" stroke-width="0.9" points="398.7,197.6 428.7,181.9 458.0,191.0 488.0,199.1"/>
<polyline fill="none" stroke="#111" stroke-width="0.9" points="398.7,194.5 428.7,161.1 458.0,176.6 488.0,195.3"/>
<line x1="398.7" y1="192.518" x2="398.7" y2="202.638" stroke="#111" stroke-width="0.7"/>
<line x1="397.2" y1="192.518" x2="400.2" y2="192.518" stroke="#111" stroke-width="0.7"/>
<line x1="397.2" y1="202.638" x2="400.2" y2="202.638" stroke="#111" stroke-width="0.7"/>
<rect x="396.59999999999997" y="195.5" width="4.2" height="4.2" fill="#fff" stroke="#111" stroke-width="0.9"/>
<line x1="428.7" y1="175.82" x2="428.7" y2="187.964" stroke="#111" stroke-width="0.7"/>
<line x1="427.2" y1="175.82" x2="430.2" y2="175.82" stroke="#111" stroke-width="0.7"/>
<line x1="427.2" y1="187.964" x2="430.2" y2="187.964" stroke="#111" stroke-width="0.7"/>
<rect x="426.59999999999997" y="179.8" width="4.2" height="4.2" fill="#fff" stroke="#111" stroke-width="0.9"/>
<line x1="458" y1="186.952" x2="458" y2="195.048" stroke="#111" stroke-width="0.7"/>
<line x1="456.5" y1="186.952" x2="459.5" y2="186.952" stroke="#111" stroke-width="0.7"/>
<line x1="456.5" y1="195.048" x2="459.5" y2="195.048" stroke="#111" stroke-width="0.7"/>
<rect x="455.9" y="188.9" width="4.2" height="4.2" fill="#fff" stroke="#111" stroke-width="0.9"/>
<line x1="488" y1="193.024" x2="488" y2="205.168" stroke="#111" stroke-width="0.7"/>
<line x1="486.5" y1="193.024" x2="489.5" y2="193.024" stroke="#111" stroke-width="0.7"/>
<line x1="486.5" y1="205.168" x2="489.5" y2="205.168" stroke="#111" stroke-width="0.7"/>
<rect x="485.9" y="197.0" width="4.2" height="4.2" fill="#fff" stroke="#111" stroke-width="0.9"/>
<line x1="398.7" y1="190.49400000000003" x2="398.7" y2="198.59" stroke="#111" stroke-width="0.7"/>
<line x1="397.2" y1="190.49400000000003" x2="400.2" y2="190.49400000000003" stroke="#111" stroke-width="0.7"/>
<line x1="397.2" y1="198.59" x2="400.2" y2="198.59" stroke="#111" stroke-width="0.7"/>
<rect x="396.2" y="192.0" width="5" height="5" fill="#111"/>
<line x1="428.7" y1="149.508" x2="428.7" y2="172.784" stroke="#111" stroke-width="0.7"/>
<line x1="427.2" y1="149.508" x2="430.2" y2="149.508" stroke="#111" stroke-width="0.7"/>
<line x1="427.2" y1="172.784" x2="430.2" y2="172.784" stroke="#111" stroke-width="0.7"/>
<rect x="426.2" y="158.6" width="5" height="5" fill="#111"/>
<line x1="458" y1="171.013" x2="458" y2="182.145" stroke="#111" stroke-width="0.7"/>
<line x1="456.5" y1="171.013" x2="459.5" y2="171.013" stroke="#111" stroke-width="0.7"/>
<line x1="456.5" y1="182.145" x2="459.5" y2="182.145" stroke="#111" stroke-width="0.7"/>
<rect x="455.5" y="174.1" width="5" height="5" fill="#111"/>
<line x1="488" y1="192.26500000000001" x2="488" y2="198.33700000000002" stroke="#111" stroke-width="0.7"/>
<line x1="486.5" y1="192.26500000000001" x2="489.5" y2="192.26500000000001" stroke="#111" stroke-width="0.7"/>
<line x1="486.5" y1="198.33700000000002" x2="489.5" y2="198.33700000000002" stroke="#111" stroke-width="0.7"/>
<rect x="485.5" y="192.8" width="5" height="5" fill="#111"/>
<text x="398" y="228.10000000000002" font-size="7.7" text-anchor="middle" font-weight="bold" font-style="normal">0</text>
<text x="426" y="228.10000000000002" font-size="7.7" text-anchor="middle" font-weight="bold" font-style="normal">2</text>
<text x="455.4" y="228.10000000000002" font-size="7.7" text-anchor="middle" font-weight="bold" font-style="normal">5</text>
<text x="484.3" y="228.10000000000002" font-size="7.7" text-anchor="middle" font-weight="bold" font-style="normal">8</text>
<text x="498.5" y="228.10000000000002" font-size="7.7" text-anchor="start" font-weight="bold" font-style="normal">(day)</text>
<line x1="384.4" y1="251.4" x2="384.4" y2="328.9" stroke="#111" stroke-width="1"/>
<line x1="384.4" y1="328.9" x2="500.5" y2="328.9" stroke="#111" stroke-width="1"/>
<line x1="384.4" y1="328.9" x2="385.9" y2="328.9" stroke="#111" stroke-width="0.8"/>
<text x="381.7" y="331.29999999999995" font-size="6.7" text-anchor="end" font-weight="bold" font-style="normal">0</text>
<line x1="384.4" y1="316.15" x2="385.9" y2="316.15" stroke="#111" stroke-width="0.8"/>
<text x="381.7" y="318.54999999999995" font-size="6.7" text-anchor="end" font-weight="bold" font-style="normal">5</text>
<line x1="384.4" y1="303.4" x2="385.9" y2="303.4" stroke="#111" stroke-width="0.8"/>
<text x="381.7" y="305.79999999999995" font-size="6.7" text-anchor="end" font-weight="bold" font-style="normal">10</text>
<line x1="384.4" y1="290.65" x2="385.9" y2="290.65" stroke="#111" stroke-width="0.8"/>
<text x="381.7" y="293.04999999999995" font-size="6.7" text-anchor="end" font-weight="bold" font-style="normal">15</text>
<line x1="384.4" y1="277.9" x2="385.9" y2="277.9" stroke="#111" stroke-width="0.8"/>
<text x="381.7" y="280.29999999999995" font-size="6.7" text-anchor="end" font-weight="bold" font-style="normal">20</text>
<line x1="384.4" y1="265.15" x2="385.9" y2="265.15" stroke="#111" stroke-width="0.8"/>
<text x="381.7" y="267.54999999999995" font-size="6.7" text-anchor="end" font-weight="bold" font-style="normal">25</text>
<line x1="384.4" y1="252.4" x2="385.9" y2="252.4" stroke="#111" stroke-width="0.8"/>
<text x="381.7" y="254.8" font-size="6.7" text-anchor="end" font-weight="bold" font-style="normal">30</text>
<line x1="413.1" y1="328.9" x2="413.1" y2="327.29999999999995" stroke="#111" stroke-width="0.8"/>
<line x1="442.1" y1="328.9" x2="442.1" y2="327.29999999999995" stroke="#111" stroke-width="0.8"/>
<line x1="471.1" y1="328.9" x2="471.1" y2="327.29999999999995" stroke="#111" stroke-width="0.8"/>
<text x="387.6" y="256.4" font-size="8.9" text-anchor="start" font-weight="bold" font-style="normal">250<tspan font-family="Liberation Serif, serif" font-weight="normal">µ</tspan>g/kg</text>
<text x="369.5" y="290.15" font-size="7.6" text-anchor="middle" font-weight="bold" font-style="normal" transform="rotate(-90 369.5 290.15)" textLength="63" lengthAdjust="spacingAndGlyphs">WBCs (x1000/<tspan font-family="Liberation Serif, serif" font-weight="normal">µ</tspan>l)</text>
<polyline fill="none" stroke="#111" stroke-width="0.9" points="398.7,309.0 427.5,290.6 456.7,293.2 485.5,308.5"/>
<polyline fill="none" stroke="#111" stroke-width="0.9" points="398.7,308.8 427.5,287.1 456.7,271.5 485.5,305.7"/>
<line x1="398.7" y1="305.185" x2="398.7" y2="312.835" stroke="#111" stroke-width="0.7"/>
<line x1="397.2" y1="305.185" x2="400.2" y2="305.185" stroke="#111" stroke-width="0.7"/>
<line x1="397.2" y1="312.835" x2="400.2" y2="312.835" stroke="#111" stroke-width="0.7"/>
<rect x="396.59999999999997" y="306.9" width="4.2" height="4.2" fill="#fff" stroke="#111" stroke-width="0.9"/>
<line x1="427.5" y1="279.43" x2="427.5" y2="301.87" stroke="#111" stroke-width="0.7"/>
<line x1="426.0" y1="279.43" x2="429.0" y2="279.43" stroke="#111" stroke-width="0.7"/>
<line x1="426.0" y1="301.87" x2="429.0" y2="301.87" stroke="#111" stroke-width="0.7"/>
<rect x="425.4" y="288.5" width="4.2" height="4.2" fill="#fff" stroke="#111" stroke-width="0.9"/>
<line x1="456.7" y1="290.2675" x2="456.7" y2="296.1325" stroke="#111" stroke-width="0.7"/>
<line x1="455.2" y1="290.2675" x2="458.2" y2="290.2675" stroke="#111" stroke-width="0.7"/>
<line x1="455.2" y1="296.1325" x2="458.2" y2="296.1325" stroke="#111" stroke-width="0.7"/>
<circle cx="456.7" cy="293.2" r="2.2" fill="#fff" stroke="#111" stroke-width="0.9"/>
<line x1="485.5" y1="304.16499999999996" x2="485.5" y2="312.835" stroke="#111" stroke-width="0.7"/>
<line x1="484.0" y1="304.16499999999996" x2="487.0" y2="304.16499999999996" stroke="#111" stroke-width="0.7"/>
<line x1="484.0" y1="312.835" x2="487.0" y2="312.835" stroke="#111" stroke-width="0.7"/>
<rect x="483.4" y="306.4" width="4.2" height="4.2" fill="#fff" stroke="#111" stroke-width="0.9"/>
<line x1="398.7" y1="303.90999999999997" x2="398.7" y2="313.59999999999997" stroke="#111" stroke-width="0.7"/>
<line x1="397.2" y1="303.90999999999997" x2="400.2" y2="303.90999999999997" stroke="#111" stroke-width="0.7"/>
<line x1="397.2" y1="313.59999999999997" x2="400.2" y2="313.59999999999997" stroke="#111" stroke-width="0.7"/>
<rect x="396.2" y="306.3" width="5" height="5" fill="#111"/>
<line x1="427.5" y1="274.58500000000004" x2="427.5" y2="299.575" stroke="#111" stroke-width="0.7"/>
<line x1="426.0" y1="274.58500000000004" x2="429.0" y2="274.58500000000004" stroke="#111" stroke-width="0.7"/>
<line x1="426.0" y1="299.575" x2="429.0" y2="299.575" stroke="#111" stroke-width="0.7"/>
<rect x="425.0" y="284.6" width="5" height="5" fill="#111"/>
<line x1="456.7" y1="263.11" x2="456.7" y2="279.94" stroke="#111" stroke-width="0.7"/>
<line x1="455.2" y1="263.11" x2="458.2" y2="263.11" stroke="#111" stroke-width="0.7"/>
<line x1="455.2" y1="279.94" x2="458.2" y2="279.94" stroke="#111" stroke-width="0.7"/>
<rect x="454.2" y="269.0" width="5" height="5" fill="#111"/>
<line x1="485.5" y1="303.145" x2="485.5" y2="308.245" stroke="#111" stroke-width="0.7"/>
<line x1="484.0" y1="303.145" x2="487.0" y2="303.145" stroke="#111" stroke-width="0.7"/>
<line x1="484.0" y1="308.245" x2="487.0" y2="308.245" stroke="#111" stroke-width="0.7"/>
<rect x="483.0" y="303.2" width="5" height="5" fill="#111"/>
<text x="398.7" y="340.29999999999995" font-size="7.7" text-anchor="middle" font-weight="bold" font-style="normal">0</text>
<text x="427" y="340.29999999999995" font-size="7.7" text-anchor="middle" font-weight="bold" font-style="normal">2</text>
<text x="456.7" y="340.29999999999995" font-size="7.7" text-anchor="middle" font-weight="bold" font-style="normal">5</text>
<text x="485.3" y="340.29999999999995" font-size="7.7" text-anchor="middle" font-weight="bold" font-style="normal">8</text>
<text x="499.1" y="340.29999999999995" font-size="7.7" text-anchor="start" font-weight="bold" font-style="normal">(day)</text>
</svg>
</body></html>
